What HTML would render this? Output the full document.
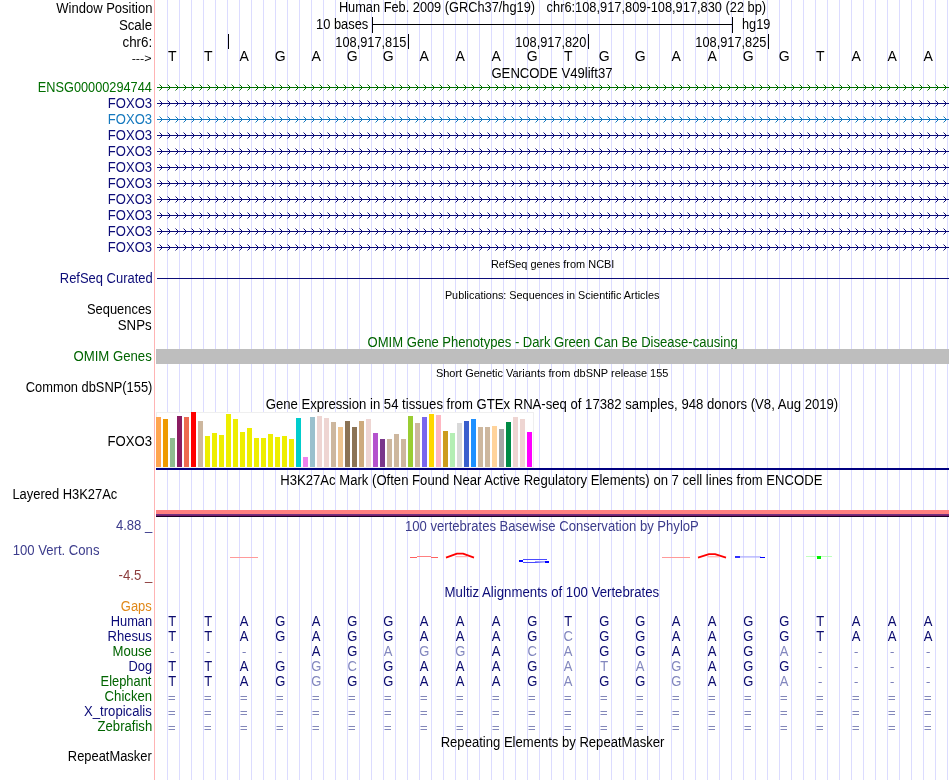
<!DOCTYPE html>
<html><head><meta charset="utf-8"><title>UCSC Genome Browser</title>
<style>html,body{margin:0;padding:0;background:#fff;width:950px;height:780px;overflow:hidden}svg{display:block;will-change:transform}text{white-space:pre}</style>
</head><body>
<svg width="950" height="780" viewBox="0 0 950 780" font-family='"Liberation Sans", sans-serif'><rect x="167" y="0" width="1" height="780" fill="#dcdcff"/>
<rect x="179" y="0" width="1" height="780" fill="#dcdcff"/>
<rect x="191" y="0" width="1" height="780" fill="#dcdcff"/>
<rect x="203" y="0" width="1" height="780" fill="#dcdcff"/>
<rect x="215" y="0" width="1" height="780" fill="#dcdcff"/>
<rect x="227" y="0" width="1" height="780" fill="#dcdcff"/>
<rect x="239" y="0" width="1" height="780" fill="#dcdcff"/>
<rect x="251" y="0" width="1" height="780" fill="#dcdcff"/>
<rect x="263" y="0" width="1" height="780" fill="#dcdcff"/>
<rect x="275" y="0" width="1" height="780" fill="#dcdcff"/>
<rect x="287" y="0" width="1" height="780" fill="#dcdcff"/>
<rect x="299" y="0" width="1" height="780" fill="#dcdcff"/>
<rect x="311" y="0" width="1" height="780" fill="#dcdcff"/>
<rect x="323" y="0" width="1" height="780" fill="#dcdcff"/>
<rect x="335" y="0" width="1" height="780" fill="#dcdcff"/>
<rect x="347" y="0" width="1" height="780" fill="#dcdcff"/>
<rect x="359" y="0" width="1" height="780" fill="#dcdcff"/>
<rect x="371" y="0" width="1" height="780" fill="#dcdcff"/>
<rect x="383" y="0" width="1" height="780" fill="#dcdcff"/>
<rect x="395" y="0" width="1" height="780" fill="#dcdcff"/>
<rect x="407" y="0" width="1" height="780" fill="#dcdcff"/>
<rect x="419" y="0" width="1" height="780" fill="#dcdcff"/>
<rect x="431" y="0" width="1" height="780" fill="#dcdcff"/>
<rect x="443" y="0" width="1" height="780" fill="#dcdcff"/>
<rect x="455" y="0" width="1" height="780" fill="#dcdcff"/>
<rect x="467" y="0" width="1" height="780" fill="#dcdcff"/>
<rect x="479" y="0" width="1" height="780" fill="#dcdcff"/>
<rect x="491" y="0" width="1" height="780" fill="#dcdcff"/>
<rect x="503" y="0" width="1" height="780" fill="#dcdcff"/>
<rect x="515" y="0" width="1" height="780" fill="#dcdcff"/>
<rect x="527" y="0" width="1" height="780" fill="#dcdcff"/>
<rect x="539" y="0" width="1" height="780" fill="#dcdcff"/>
<rect x="551" y="0" width="1" height="780" fill="#dcdcff"/>
<rect x="563" y="0" width="1" height="780" fill="#dcdcff"/>
<rect x="575" y="0" width="1" height="780" fill="#dcdcff"/>
<rect x="587" y="0" width="1" height="780" fill="#dcdcff"/>
<rect x="599" y="0" width="1" height="780" fill="#dcdcff"/>
<rect x="611" y="0" width="1" height="780" fill="#dcdcff"/>
<rect x="623" y="0" width="1" height="780" fill="#dcdcff"/>
<rect x="635" y="0" width="1" height="780" fill="#dcdcff"/>
<rect x="647" y="0" width="1" height="780" fill="#dcdcff"/>
<rect x="659" y="0" width="1" height="780" fill="#dcdcff"/>
<rect x="671" y="0" width="1" height="780" fill="#dcdcff"/>
<rect x="683" y="0" width="1" height="780" fill="#dcdcff"/>
<rect x="695" y="0" width="1" height="780" fill="#dcdcff"/>
<rect x="707" y="0" width="1" height="780" fill="#dcdcff"/>
<rect x="719" y="0" width="1" height="780" fill="#dcdcff"/>
<rect x="731" y="0" width="1" height="780" fill="#dcdcff"/>
<rect x="743" y="0" width="1" height="780" fill="#dcdcff"/>
<rect x="755" y="0" width="1" height="780" fill="#dcdcff"/>
<rect x="767" y="0" width="1" height="780" fill="#dcdcff"/>
<rect x="779" y="0" width="1" height="780" fill="#dcdcff"/>
<rect x="791" y="0" width="1" height="780" fill="#dcdcff"/>
<rect x="803" y="0" width="1" height="780" fill="#dcdcff"/>
<rect x="815" y="0" width="1" height="780" fill="#dcdcff"/>
<rect x="827" y="0" width="1" height="780" fill="#dcdcff"/>
<rect x="839" y="0" width="1" height="780" fill="#dcdcff"/>
<rect x="851" y="0" width="1" height="780" fill="#dcdcff"/>
<rect x="863" y="0" width="1" height="780" fill="#dcdcff"/>
<rect x="875" y="0" width="1" height="780" fill="#dcdcff"/>
<rect x="887" y="0" width="1" height="780" fill="#dcdcff"/>
<rect x="899" y="0" width="1" height="780" fill="#dcdcff"/>
<rect x="911" y="0" width="1" height="780" fill="#dcdcff"/>
<rect x="923" y="0" width="1" height="780" fill="#dcdcff"/>
<rect x="935" y="0" width="1" height="780" fill="#dcdcff"/>
<rect x="947" y="0" width="1" height="780" fill="#dcdcff"/>
<rect x="154" y="0" width="1" height="780" fill="#ffb4b4"/>
<text transform="matrix(1,0,0,1.03,0,13)" x="56.24" y="0" font-size="13.6" fill="#000" textLength="96.24" lengthAdjust="spacingAndGlyphs">Window Position</text>
<text transform="matrix(1,0,0,1.03,0,30)" x="118.88" y="0" font-size="13.6" fill="#000" textLength="33.22" lengthAdjust="spacingAndGlyphs">Scale</text>
<text transform="matrix(1,0,0,1.03,0,47)" x="122.52" y="0" font-size="13.6" fill="#000" textLength="29.72" lengthAdjust="spacingAndGlyphs">chr6:</text>
<text transform="matrix(1,0,0,1.03,0,61.5)" x="131.69" y="0" font-size="11.5" fill="#000" textLength="19.87" lengthAdjust="spacingAndGlyphs">---&gt;</text>
<text transform="matrix(1,0,0,1.03,0,12)" x="338.88" y="0" font-size="13.6" fill="#000" textLength="196.16" lengthAdjust="spacingAndGlyphs">Human Feb. 2009 (GRCh37/hg19)</text>
<text transform="matrix(1,0,0,1.03,0,12)" x="546.62" y="0" font-size="13.6" fill="#000" textLength="219.52" lengthAdjust="spacingAndGlyphs">chr6:108,917,809-108,917,830 (22 bp)</text>
<text transform="matrix(1,0,0,1.03,0,29)" x="315.96" y="0" font-size="13.6" fill="#000" textLength="52.33" lengthAdjust="spacingAndGlyphs">10 bases</text>
<rect x="372" y="17" width="1" height="16" fill="#000"/>
<rect x="732" y="17" width="1" height="16" fill="#000"/>
<rect x="372" y="24" width="361" height="1" fill="#000"/>
<text transform="matrix(1,0,0,1.03,0,29)" x="742.06" y="0" font-size="13.6" fill="#000" textLength="28.29" lengthAdjust="spacingAndGlyphs">hg19</text>
<rect x="228" y="34" width="1" height="15" fill="#000"/>
<rect x="408" y="34" width="1" height="15" fill="#000"/>
<text transform="matrix(1,0,0,1.03,0,47)" x="335.36" y="0" font-size="13.6" fill="#000" textLength="71.01" lengthAdjust="spacingAndGlyphs">108,917,815</text>
<rect x="588" y="34" width="1" height="15" fill="#000"/>
<text transform="matrix(1,0,0,1.03,0,47)" x="515.36" y="0" font-size="13.6" fill="#000" textLength="70.97" lengthAdjust="spacingAndGlyphs">108,917,820</text>
<rect x="768" y="34" width="1" height="15" fill="#000"/>
<text transform="matrix(1,0,0,1.03,0,47)" x="695.36" y="0" font-size="13.6" fill="#000" textLength="71.01" lengthAdjust="spacingAndGlyphs">108,917,825</text>
<text x="172.2" y="61" font-size="14" fill="#000" text-anchor="middle">T</text>
<text x="208.2" y="61" font-size="14" fill="#000" text-anchor="middle">T</text>
<text x="244.2" y="61" font-size="14" fill="#000" text-anchor="middle">A</text>
<text x="280.2" y="61" font-size="14" fill="#000" text-anchor="middle">G</text>
<text x="316.2" y="61" font-size="14" fill="#000" text-anchor="middle">A</text>
<text x="352.2" y="61" font-size="14" fill="#000" text-anchor="middle">G</text>
<text x="388.2" y="61" font-size="14" fill="#000" text-anchor="middle">G</text>
<text x="424.2" y="61" font-size="14" fill="#000" text-anchor="middle">A</text>
<text x="460.2" y="61" font-size="14" fill="#000" text-anchor="middle">A</text>
<text x="496.2" y="61" font-size="14" fill="#000" text-anchor="middle">A</text>
<text x="532.2" y="61" font-size="14" fill="#000" text-anchor="middle">G</text>
<text x="568.2" y="61" font-size="14" fill="#000" text-anchor="middle">T</text>
<text x="604.2" y="61" font-size="14" fill="#000" text-anchor="middle">G</text>
<text x="640.2" y="61" font-size="14" fill="#000" text-anchor="middle">G</text>
<text x="676.2" y="61" font-size="14" fill="#000" text-anchor="middle">A</text>
<text x="712.2" y="61" font-size="14" fill="#000" text-anchor="middle">A</text>
<text x="748.2" y="61" font-size="14" fill="#000" text-anchor="middle">G</text>
<text x="784.2" y="61" font-size="14" fill="#000" text-anchor="middle">G</text>
<text x="820.2" y="61" font-size="14" fill="#000" text-anchor="middle">T</text>
<text x="856.2" y="61" font-size="14" fill="#000" text-anchor="middle">A</text>
<text x="892.2" y="61" font-size="14" fill="#000" text-anchor="middle">A</text>
<text x="928.2" y="61" font-size="14" fill="#000" text-anchor="middle">A</text>
<text transform="matrix(1,0,0,1.03,0,78)" x="491.42" y="0" font-size="13.6" fill="#000" textLength="121.07" lengthAdjust="spacingAndGlyphs">GENCODE V49lift37</text>
<text transform="matrix(1,0,0,1.03,0,92)" x="37.88" y="0" font-size="13.6" fill="#006e00" textLength="114.01" lengthAdjust="spacingAndGlyphs">ENSG00000294744</text>
<rect x="157" y="87" width="792" height="1" fill="#006e00"/>
<path d="M159.5,84.5L162.5,87.5L159.5,90.5 M167.5,84.5L170.5,87.5L167.5,90.5 M175.5,84.5L178.5,87.5L175.5,90.5 M183.5,84.5L186.5,87.5L183.5,90.5 M191.5,84.5L194.5,87.5L191.5,90.5 M199.5,84.5L202.5,87.5L199.5,90.5 M207.5,84.5L210.5,87.5L207.5,90.5 M215.5,84.5L218.5,87.5L215.5,90.5 M223.5,84.5L226.5,87.5L223.5,90.5 M231.5,84.5L234.5,87.5L231.5,90.5 M239.5,84.5L242.5,87.5L239.5,90.5 M247.5,84.5L250.5,87.5L247.5,90.5 M255.5,84.5L258.5,87.5L255.5,90.5 M263.5,84.5L266.5,87.5L263.5,90.5 M271.5,84.5L274.5,87.5L271.5,90.5 M279.5,84.5L282.5,87.5L279.5,90.5 M287.5,84.5L290.5,87.5L287.5,90.5 M295.5,84.5L298.5,87.5L295.5,90.5 M303.5,84.5L306.5,87.5L303.5,90.5 M311.5,84.5L314.5,87.5L311.5,90.5 M319.5,84.5L322.5,87.5L319.5,90.5 M327.5,84.5L330.5,87.5L327.5,90.5 M335.5,84.5L338.5,87.5L335.5,90.5 M343.5,84.5L346.5,87.5L343.5,90.5 M351.5,84.5L354.5,87.5L351.5,90.5 M359.5,84.5L362.5,87.5L359.5,90.5 M367.5,84.5L370.5,87.5L367.5,90.5 M375.5,84.5L378.5,87.5L375.5,90.5 M383.5,84.5L386.5,87.5L383.5,90.5 M391.5,84.5L394.5,87.5L391.5,90.5 M399.5,84.5L402.5,87.5L399.5,90.5 M407.5,84.5L410.5,87.5L407.5,90.5 M415.5,84.5L418.5,87.5L415.5,90.5 M423.5,84.5L426.5,87.5L423.5,90.5 M431.5,84.5L434.5,87.5L431.5,90.5 M439.5,84.5L442.5,87.5L439.5,90.5 M447.5,84.5L450.5,87.5L447.5,90.5 M455.5,84.5L458.5,87.5L455.5,90.5 M463.5,84.5L466.5,87.5L463.5,90.5 M471.5,84.5L474.5,87.5L471.5,90.5 M479.5,84.5L482.5,87.5L479.5,90.5 M487.5,84.5L490.5,87.5L487.5,90.5 M495.5,84.5L498.5,87.5L495.5,90.5 M503.5,84.5L506.5,87.5L503.5,90.5 M511.5,84.5L514.5,87.5L511.5,90.5 M519.5,84.5L522.5,87.5L519.5,90.5 M527.5,84.5L530.5,87.5L527.5,90.5 M535.5,84.5L538.5,87.5L535.5,90.5 M543.5,84.5L546.5,87.5L543.5,90.5 M551.5,84.5L554.5,87.5L551.5,90.5 M559.5,84.5L562.5,87.5L559.5,90.5 M567.5,84.5L570.5,87.5L567.5,90.5 M575.5,84.5L578.5,87.5L575.5,90.5 M583.5,84.5L586.5,87.5L583.5,90.5 M591.5,84.5L594.5,87.5L591.5,90.5 M599.5,84.5L602.5,87.5L599.5,90.5 M607.5,84.5L610.5,87.5L607.5,90.5 M615.5,84.5L618.5,87.5L615.5,90.5 M623.5,84.5L626.5,87.5L623.5,90.5 M631.5,84.5L634.5,87.5L631.5,90.5 M639.5,84.5L642.5,87.5L639.5,90.5 M647.5,84.5L650.5,87.5L647.5,90.5 M655.5,84.5L658.5,87.5L655.5,90.5 M663.5,84.5L666.5,87.5L663.5,90.5 M671.5,84.5L674.5,87.5L671.5,90.5 M679.5,84.5L682.5,87.5L679.5,90.5 M687.5,84.5L690.5,87.5L687.5,90.5 M695.5,84.5L698.5,87.5L695.5,90.5 M703.5,84.5L706.5,87.5L703.5,90.5 M711.5,84.5L714.5,87.5L711.5,90.5 M719.5,84.5L722.5,87.5L719.5,90.5 M727.5,84.5L730.5,87.5L727.5,90.5 M735.5,84.5L738.5,87.5L735.5,90.5 M743.5,84.5L746.5,87.5L743.5,90.5 M751.5,84.5L754.5,87.5L751.5,90.5 M759.5,84.5L762.5,87.5L759.5,90.5 M767.5,84.5L770.5,87.5L767.5,90.5 M775.5,84.5L778.5,87.5L775.5,90.5 M783.5,84.5L786.5,87.5L783.5,90.5 M791.5,84.5L794.5,87.5L791.5,90.5 M799.5,84.5L802.5,87.5L799.5,90.5 M807.5,84.5L810.5,87.5L807.5,90.5 M815.5,84.5L818.5,87.5L815.5,90.5 M823.5,84.5L826.5,87.5L823.5,90.5 M831.5,84.5L834.5,87.5L831.5,90.5 M839.5,84.5L842.5,87.5L839.5,90.5 M847.5,84.5L850.5,87.5L847.5,90.5 M855.5,84.5L858.5,87.5L855.5,90.5 M863.5,84.5L866.5,87.5L863.5,90.5 M871.5,84.5L874.5,87.5L871.5,90.5 M879.5,84.5L882.5,87.5L879.5,90.5 M887.5,84.5L890.5,87.5L887.5,90.5 M895.5,84.5L898.5,87.5L895.5,90.5 M903.5,84.5L906.5,87.5L903.5,90.5 M911.5,84.5L914.5,87.5L911.5,90.5 M919.5,84.5L922.5,87.5L919.5,90.5 M927.5,84.5L930.5,87.5L927.5,90.5 M935.5,84.5L938.5,87.5L935.5,90.5 M943.5,84.5L946.5,87.5L943.5,90.5" stroke="#006e00" stroke-width="1" fill="none"/>
<text transform="matrix(1,0,0,1.03,0,108)" x="107.88" y="0" font-size="13.6" fill="#0c0c78" textLength="44.21" lengthAdjust="spacingAndGlyphs">FOXO3</text>
<rect x="157" y="103" width="792" height="1" fill="#0c0c78"/>
<path d="M159.5,100.5L162.5,103.5L159.5,106.5 M167.5,100.5L170.5,103.5L167.5,106.5 M175.5,100.5L178.5,103.5L175.5,106.5 M183.5,100.5L186.5,103.5L183.5,106.5 M191.5,100.5L194.5,103.5L191.5,106.5 M199.5,100.5L202.5,103.5L199.5,106.5 M207.5,100.5L210.5,103.5L207.5,106.5 M215.5,100.5L218.5,103.5L215.5,106.5 M223.5,100.5L226.5,103.5L223.5,106.5 M231.5,100.5L234.5,103.5L231.5,106.5 M239.5,100.5L242.5,103.5L239.5,106.5 M247.5,100.5L250.5,103.5L247.5,106.5 M255.5,100.5L258.5,103.5L255.5,106.5 M263.5,100.5L266.5,103.5L263.5,106.5 M271.5,100.5L274.5,103.5L271.5,106.5 M279.5,100.5L282.5,103.5L279.5,106.5 M287.5,100.5L290.5,103.5L287.5,106.5 M295.5,100.5L298.5,103.5L295.5,106.5 M303.5,100.5L306.5,103.5L303.5,106.5 M311.5,100.5L314.5,103.5L311.5,106.5 M319.5,100.5L322.5,103.5L319.5,106.5 M327.5,100.5L330.5,103.5L327.5,106.5 M335.5,100.5L338.5,103.5L335.5,106.5 M343.5,100.5L346.5,103.5L343.5,106.5 M351.5,100.5L354.5,103.5L351.5,106.5 M359.5,100.5L362.5,103.5L359.5,106.5 M367.5,100.5L370.5,103.5L367.5,106.5 M375.5,100.5L378.5,103.5L375.5,106.5 M383.5,100.5L386.5,103.5L383.5,106.5 M391.5,100.5L394.5,103.5L391.5,106.5 M399.5,100.5L402.5,103.5L399.5,106.5 M407.5,100.5L410.5,103.5L407.5,106.5 M415.5,100.5L418.5,103.5L415.5,106.5 M423.5,100.5L426.5,103.5L423.5,106.5 M431.5,100.5L434.5,103.5L431.5,106.5 M439.5,100.5L442.5,103.5L439.5,106.5 M447.5,100.5L450.5,103.5L447.5,106.5 M455.5,100.5L458.5,103.5L455.5,106.5 M463.5,100.5L466.5,103.5L463.5,106.5 M471.5,100.5L474.5,103.5L471.5,106.5 M479.5,100.5L482.5,103.5L479.5,106.5 M487.5,100.5L490.5,103.5L487.5,106.5 M495.5,100.5L498.5,103.5L495.5,106.5 M503.5,100.5L506.5,103.5L503.5,106.5 M511.5,100.5L514.5,103.5L511.5,106.5 M519.5,100.5L522.5,103.5L519.5,106.5 M527.5,100.5L530.5,103.5L527.5,106.5 M535.5,100.5L538.5,103.5L535.5,106.5 M543.5,100.5L546.5,103.5L543.5,106.5 M551.5,100.5L554.5,103.5L551.5,106.5 M559.5,100.5L562.5,103.5L559.5,106.5 M567.5,100.5L570.5,103.5L567.5,106.5 M575.5,100.5L578.5,103.5L575.5,106.5 M583.5,100.5L586.5,103.5L583.5,106.5 M591.5,100.5L594.5,103.5L591.5,106.5 M599.5,100.5L602.5,103.5L599.5,106.5 M607.5,100.5L610.5,103.5L607.5,106.5 M615.5,100.5L618.5,103.5L615.5,106.5 M623.5,100.5L626.5,103.5L623.5,106.5 M631.5,100.5L634.5,103.5L631.5,106.5 M639.5,100.5L642.5,103.5L639.5,106.5 M647.5,100.5L650.5,103.5L647.5,106.5 M655.5,100.5L658.5,103.5L655.5,106.5 M663.5,100.5L666.5,103.5L663.5,106.5 M671.5,100.5L674.5,103.5L671.5,106.5 M679.5,100.5L682.5,103.5L679.5,106.5 M687.5,100.5L690.5,103.5L687.5,106.5 M695.5,100.5L698.5,103.5L695.5,106.5 M703.5,100.5L706.5,103.5L703.5,106.5 M711.5,100.5L714.5,103.5L711.5,106.5 M719.5,100.5L722.5,103.5L719.5,106.5 M727.5,100.5L730.5,103.5L727.5,106.5 M735.5,100.5L738.5,103.5L735.5,106.5 M743.5,100.5L746.5,103.5L743.5,106.5 M751.5,100.5L754.5,103.5L751.5,106.5 M759.5,100.5L762.5,103.5L759.5,106.5 M767.5,100.5L770.5,103.5L767.5,106.5 M775.5,100.5L778.5,103.5L775.5,106.5 M783.5,100.5L786.5,103.5L783.5,106.5 M791.5,100.5L794.5,103.5L791.5,106.5 M799.5,100.5L802.5,103.5L799.5,106.5 M807.5,100.5L810.5,103.5L807.5,106.5 M815.5,100.5L818.5,103.5L815.5,106.5 M823.5,100.5L826.5,103.5L823.5,106.5 M831.5,100.5L834.5,103.5L831.5,106.5 M839.5,100.5L842.5,103.5L839.5,106.5 M847.5,100.5L850.5,103.5L847.5,106.5 M855.5,100.5L858.5,103.5L855.5,106.5 M863.5,100.5L866.5,103.5L863.5,106.5 M871.5,100.5L874.5,103.5L871.5,106.5 M879.5,100.5L882.5,103.5L879.5,106.5 M887.5,100.5L890.5,103.5L887.5,106.5 M895.5,100.5L898.5,103.5L895.5,106.5 M903.5,100.5L906.5,103.5L903.5,106.5 M911.5,100.5L914.5,103.5L911.5,106.5 M919.5,100.5L922.5,103.5L919.5,106.5 M927.5,100.5L930.5,103.5L927.5,106.5 M935.5,100.5L938.5,103.5L935.5,106.5 M943.5,100.5L946.5,103.5L943.5,106.5" stroke="#0c0c78" stroke-width="1" fill="none"/>
<text transform="matrix(1,0,0,1.03,0,124)" x="107.88" y="0" font-size="13.6" fill="#1478be" textLength="44.21" lengthAdjust="spacingAndGlyphs">FOXO3</text>
<rect x="157" y="119" width="792" height="1" fill="#1478be"/>
<path d="M159.5,116.5L162.5,119.5L159.5,122.5 M167.5,116.5L170.5,119.5L167.5,122.5 M175.5,116.5L178.5,119.5L175.5,122.5 M183.5,116.5L186.5,119.5L183.5,122.5 M191.5,116.5L194.5,119.5L191.5,122.5 M199.5,116.5L202.5,119.5L199.5,122.5 M207.5,116.5L210.5,119.5L207.5,122.5 M215.5,116.5L218.5,119.5L215.5,122.5 M223.5,116.5L226.5,119.5L223.5,122.5 M231.5,116.5L234.5,119.5L231.5,122.5 M239.5,116.5L242.5,119.5L239.5,122.5 M247.5,116.5L250.5,119.5L247.5,122.5 M255.5,116.5L258.5,119.5L255.5,122.5 M263.5,116.5L266.5,119.5L263.5,122.5 M271.5,116.5L274.5,119.5L271.5,122.5 M279.5,116.5L282.5,119.5L279.5,122.5 M287.5,116.5L290.5,119.5L287.5,122.5 M295.5,116.5L298.5,119.5L295.5,122.5 M303.5,116.5L306.5,119.5L303.5,122.5 M311.5,116.5L314.5,119.5L311.5,122.5 M319.5,116.5L322.5,119.5L319.5,122.5 M327.5,116.5L330.5,119.5L327.5,122.5 M335.5,116.5L338.5,119.5L335.5,122.5 M343.5,116.5L346.5,119.5L343.5,122.5 M351.5,116.5L354.5,119.5L351.5,122.5 M359.5,116.5L362.5,119.5L359.5,122.5 M367.5,116.5L370.5,119.5L367.5,122.5 M375.5,116.5L378.5,119.5L375.5,122.5 M383.5,116.5L386.5,119.5L383.5,122.5 M391.5,116.5L394.5,119.5L391.5,122.5 M399.5,116.5L402.5,119.5L399.5,122.5 M407.5,116.5L410.5,119.5L407.5,122.5 M415.5,116.5L418.5,119.5L415.5,122.5 M423.5,116.5L426.5,119.5L423.5,122.5 M431.5,116.5L434.5,119.5L431.5,122.5 M439.5,116.5L442.5,119.5L439.5,122.5 M447.5,116.5L450.5,119.5L447.5,122.5 M455.5,116.5L458.5,119.5L455.5,122.5 M463.5,116.5L466.5,119.5L463.5,122.5 M471.5,116.5L474.5,119.5L471.5,122.5 M479.5,116.5L482.5,119.5L479.5,122.5 M487.5,116.5L490.5,119.5L487.5,122.5 M495.5,116.5L498.5,119.5L495.5,122.5 M503.5,116.5L506.5,119.5L503.5,122.5 M511.5,116.5L514.5,119.5L511.5,122.5 M519.5,116.5L522.5,119.5L519.5,122.5 M527.5,116.5L530.5,119.5L527.5,122.5 M535.5,116.5L538.5,119.5L535.5,122.5 M543.5,116.5L546.5,119.5L543.5,122.5 M551.5,116.5L554.5,119.5L551.5,122.5 M559.5,116.5L562.5,119.5L559.5,122.5 M567.5,116.5L570.5,119.5L567.5,122.5 M575.5,116.5L578.5,119.5L575.5,122.5 M583.5,116.5L586.5,119.5L583.5,122.5 M591.5,116.5L594.5,119.5L591.5,122.5 M599.5,116.5L602.5,119.5L599.5,122.5 M607.5,116.5L610.5,119.5L607.5,122.5 M615.5,116.5L618.5,119.5L615.5,122.5 M623.5,116.5L626.5,119.5L623.5,122.5 M631.5,116.5L634.5,119.5L631.5,122.5 M639.5,116.5L642.5,119.5L639.5,122.5 M647.5,116.5L650.5,119.5L647.5,122.5 M655.5,116.5L658.5,119.5L655.5,122.5 M663.5,116.5L666.5,119.5L663.5,122.5 M671.5,116.5L674.5,119.5L671.5,122.5 M679.5,116.5L682.5,119.5L679.5,122.5 M687.5,116.5L690.5,119.5L687.5,122.5 M695.5,116.5L698.5,119.5L695.5,122.5 M703.5,116.5L706.5,119.5L703.5,122.5 M711.5,116.5L714.5,119.5L711.5,122.5 M719.5,116.5L722.5,119.5L719.5,122.5 M727.5,116.5L730.5,119.5L727.5,122.5 M735.5,116.5L738.5,119.5L735.5,122.5 M743.5,116.5L746.5,119.5L743.5,122.5 M751.5,116.5L754.5,119.5L751.5,122.5 M759.5,116.5L762.5,119.5L759.5,122.5 M767.5,116.5L770.5,119.5L767.5,122.5 M775.5,116.5L778.5,119.5L775.5,122.5 M783.5,116.5L786.5,119.5L783.5,122.5 M791.5,116.5L794.5,119.5L791.5,122.5 M799.5,116.5L802.5,119.5L799.5,122.5 M807.5,116.5L810.5,119.5L807.5,122.5 M815.5,116.5L818.5,119.5L815.5,122.5 M823.5,116.5L826.5,119.5L823.5,122.5 M831.5,116.5L834.5,119.5L831.5,122.5 M839.5,116.5L842.5,119.5L839.5,122.5 M847.5,116.5L850.5,119.5L847.5,122.5 M855.5,116.5L858.5,119.5L855.5,122.5 M863.5,116.5L866.5,119.5L863.5,122.5 M871.5,116.5L874.5,119.5L871.5,122.5 M879.5,116.5L882.5,119.5L879.5,122.5 M887.5,116.5L890.5,119.5L887.5,122.5 M895.5,116.5L898.5,119.5L895.5,122.5 M903.5,116.5L906.5,119.5L903.5,122.5 M911.5,116.5L914.5,119.5L911.5,122.5 M919.5,116.5L922.5,119.5L919.5,122.5 M927.5,116.5L930.5,119.5L927.5,122.5 M935.5,116.5L938.5,119.5L935.5,122.5 M943.5,116.5L946.5,119.5L943.5,122.5" stroke="#1478be" stroke-width="1" fill="none"/>
<text transform="matrix(1,0,0,1.03,0,140)" x="107.88" y="0" font-size="13.6" fill="#0c0c78" textLength="44.21" lengthAdjust="spacingAndGlyphs">FOXO3</text>
<rect x="157" y="135" width="792" height="1" fill="#0c0c78"/>
<path d="M159.5,132.5L162.5,135.5L159.5,138.5 M167.5,132.5L170.5,135.5L167.5,138.5 M175.5,132.5L178.5,135.5L175.5,138.5 M183.5,132.5L186.5,135.5L183.5,138.5 M191.5,132.5L194.5,135.5L191.5,138.5 M199.5,132.5L202.5,135.5L199.5,138.5 M207.5,132.5L210.5,135.5L207.5,138.5 M215.5,132.5L218.5,135.5L215.5,138.5 M223.5,132.5L226.5,135.5L223.5,138.5 M231.5,132.5L234.5,135.5L231.5,138.5 M239.5,132.5L242.5,135.5L239.5,138.5 M247.5,132.5L250.5,135.5L247.5,138.5 M255.5,132.5L258.5,135.5L255.5,138.5 M263.5,132.5L266.5,135.5L263.5,138.5 M271.5,132.5L274.5,135.5L271.5,138.5 M279.5,132.5L282.5,135.5L279.5,138.5 M287.5,132.5L290.5,135.5L287.5,138.5 M295.5,132.5L298.5,135.5L295.5,138.5 M303.5,132.5L306.5,135.5L303.5,138.5 M311.5,132.5L314.5,135.5L311.5,138.5 M319.5,132.5L322.5,135.5L319.5,138.5 M327.5,132.5L330.5,135.5L327.5,138.5 M335.5,132.5L338.5,135.5L335.5,138.5 M343.5,132.5L346.5,135.5L343.5,138.5 M351.5,132.5L354.5,135.5L351.5,138.5 M359.5,132.5L362.5,135.5L359.5,138.5 M367.5,132.5L370.5,135.5L367.5,138.5 M375.5,132.5L378.5,135.5L375.5,138.5 M383.5,132.5L386.5,135.5L383.5,138.5 M391.5,132.5L394.5,135.5L391.5,138.5 M399.5,132.5L402.5,135.5L399.5,138.5 M407.5,132.5L410.5,135.5L407.5,138.5 M415.5,132.5L418.5,135.5L415.5,138.5 M423.5,132.5L426.5,135.5L423.5,138.5 M431.5,132.5L434.5,135.5L431.5,138.5 M439.5,132.5L442.5,135.5L439.5,138.5 M447.5,132.5L450.5,135.5L447.5,138.5 M455.5,132.5L458.5,135.5L455.5,138.5 M463.5,132.5L466.5,135.5L463.5,138.5 M471.5,132.5L474.5,135.5L471.5,138.5 M479.5,132.5L482.5,135.5L479.5,138.5 M487.5,132.5L490.5,135.5L487.5,138.5 M495.5,132.5L498.5,135.5L495.5,138.5 M503.5,132.5L506.5,135.5L503.5,138.5 M511.5,132.5L514.5,135.5L511.5,138.5 M519.5,132.5L522.5,135.5L519.5,138.5 M527.5,132.5L530.5,135.5L527.5,138.5 M535.5,132.5L538.5,135.5L535.5,138.5 M543.5,132.5L546.5,135.5L543.5,138.5 M551.5,132.5L554.5,135.5L551.5,138.5 M559.5,132.5L562.5,135.5L559.5,138.5 M567.5,132.5L570.5,135.5L567.5,138.5 M575.5,132.5L578.5,135.5L575.5,138.5 M583.5,132.5L586.5,135.5L583.5,138.5 M591.5,132.5L594.5,135.5L591.5,138.5 M599.5,132.5L602.5,135.5L599.5,138.5 M607.5,132.5L610.5,135.5L607.5,138.5 M615.5,132.5L618.5,135.5L615.5,138.5 M623.5,132.5L626.5,135.5L623.5,138.5 M631.5,132.5L634.5,135.5L631.5,138.5 M639.5,132.5L642.5,135.5L639.5,138.5 M647.5,132.5L650.5,135.5L647.5,138.5 M655.5,132.5L658.5,135.5L655.5,138.5 M663.5,132.5L666.5,135.5L663.5,138.5 M671.5,132.5L674.5,135.5L671.5,138.5 M679.5,132.5L682.5,135.5L679.5,138.5 M687.5,132.5L690.5,135.5L687.5,138.5 M695.5,132.5L698.5,135.5L695.5,138.5 M703.5,132.5L706.5,135.5L703.5,138.5 M711.5,132.5L714.5,135.5L711.5,138.5 M719.5,132.5L722.5,135.5L719.5,138.5 M727.5,132.5L730.5,135.5L727.5,138.5 M735.5,132.5L738.5,135.5L735.5,138.5 M743.5,132.5L746.5,135.5L743.5,138.5 M751.5,132.5L754.5,135.5L751.5,138.5 M759.5,132.5L762.5,135.5L759.5,138.5 M767.5,132.5L770.5,135.5L767.5,138.5 M775.5,132.5L778.5,135.5L775.5,138.5 M783.5,132.5L786.5,135.5L783.5,138.5 M791.5,132.5L794.5,135.5L791.5,138.5 M799.5,132.5L802.5,135.5L799.5,138.5 M807.5,132.5L810.5,135.5L807.5,138.5 M815.5,132.5L818.5,135.5L815.5,138.5 M823.5,132.5L826.5,135.5L823.5,138.5 M831.5,132.5L834.5,135.5L831.5,138.5 M839.5,132.5L842.5,135.5L839.5,138.5 M847.5,132.5L850.5,135.5L847.5,138.5 M855.5,132.5L858.5,135.5L855.5,138.5 M863.5,132.5L866.5,135.5L863.5,138.5 M871.5,132.5L874.5,135.5L871.5,138.5 M879.5,132.5L882.5,135.5L879.5,138.5 M887.5,132.5L890.5,135.5L887.5,138.5 M895.5,132.5L898.5,135.5L895.5,138.5 M903.5,132.5L906.5,135.5L903.5,138.5 M911.5,132.5L914.5,135.5L911.5,138.5 M919.5,132.5L922.5,135.5L919.5,138.5 M927.5,132.5L930.5,135.5L927.5,138.5 M935.5,132.5L938.5,135.5L935.5,138.5 M943.5,132.5L946.5,135.5L943.5,138.5" stroke="#0c0c78" stroke-width="1" fill="none"/>
<text transform="matrix(1,0,0,1.03,0,156)" x="107.88" y="0" font-size="13.6" fill="#0c0c78" textLength="44.21" lengthAdjust="spacingAndGlyphs">FOXO3</text>
<rect x="157" y="151" width="792" height="1" fill="#0c0c78"/>
<path d="M159.5,148.5L162.5,151.5L159.5,154.5 M167.5,148.5L170.5,151.5L167.5,154.5 M175.5,148.5L178.5,151.5L175.5,154.5 M183.5,148.5L186.5,151.5L183.5,154.5 M191.5,148.5L194.5,151.5L191.5,154.5 M199.5,148.5L202.5,151.5L199.5,154.5 M207.5,148.5L210.5,151.5L207.5,154.5 M215.5,148.5L218.5,151.5L215.5,154.5 M223.5,148.5L226.5,151.5L223.5,154.5 M231.5,148.5L234.5,151.5L231.5,154.5 M239.5,148.5L242.5,151.5L239.5,154.5 M247.5,148.5L250.5,151.5L247.5,154.5 M255.5,148.5L258.5,151.5L255.5,154.5 M263.5,148.5L266.5,151.5L263.5,154.5 M271.5,148.5L274.5,151.5L271.5,154.5 M279.5,148.5L282.5,151.5L279.5,154.5 M287.5,148.5L290.5,151.5L287.5,154.5 M295.5,148.5L298.5,151.5L295.5,154.5 M303.5,148.5L306.5,151.5L303.5,154.5 M311.5,148.5L314.5,151.5L311.5,154.5 M319.5,148.5L322.5,151.5L319.5,154.5 M327.5,148.5L330.5,151.5L327.5,154.5 M335.5,148.5L338.5,151.5L335.5,154.5 M343.5,148.5L346.5,151.5L343.5,154.5 M351.5,148.5L354.5,151.5L351.5,154.5 M359.5,148.5L362.5,151.5L359.5,154.5 M367.5,148.5L370.5,151.5L367.5,154.5 M375.5,148.5L378.5,151.5L375.5,154.5 M383.5,148.5L386.5,151.5L383.5,154.5 M391.5,148.5L394.5,151.5L391.5,154.5 M399.5,148.5L402.5,151.5L399.5,154.5 M407.5,148.5L410.5,151.5L407.5,154.5 M415.5,148.5L418.5,151.5L415.5,154.5 M423.5,148.5L426.5,151.5L423.5,154.5 M431.5,148.5L434.5,151.5L431.5,154.5 M439.5,148.5L442.5,151.5L439.5,154.5 M447.5,148.5L450.5,151.5L447.5,154.5 M455.5,148.5L458.5,151.5L455.5,154.5 M463.5,148.5L466.5,151.5L463.5,154.5 M471.5,148.5L474.5,151.5L471.5,154.5 M479.5,148.5L482.5,151.5L479.5,154.5 M487.5,148.5L490.5,151.5L487.5,154.5 M495.5,148.5L498.5,151.5L495.5,154.5 M503.5,148.5L506.5,151.5L503.5,154.5 M511.5,148.5L514.5,151.5L511.5,154.5 M519.5,148.5L522.5,151.5L519.5,154.5 M527.5,148.5L530.5,151.5L527.5,154.5 M535.5,148.5L538.5,151.5L535.5,154.5 M543.5,148.5L546.5,151.5L543.5,154.5 M551.5,148.5L554.5,151.5L551.5,154.5 M559.5,148.5L562.5,151.5L559.5,154.5 M567.5,148.5L570.5,151.5L567.5,154.5 M575.5,148.5L578.5,151.5L575.5,154.5 M583.5,148.5L586.5,151.5L583.5,154.5 M591.5,148.5L594.5,151.5L591.5,154.5 M599.5,148.5L602.5,151.5L599.5,154.5 M607.5,148.5L610.5,151.5L607.5,154.5 M615.5,148.5L618.5,151.5L615.5,154.5 M623.5,148.5L626.5,151.5L623.5,154.5 M631.5,148.5L634.5,151.5L631.5,154.5 M639.5,148.5L642.5,151.5L639.5,154.5 M647.5,148.5L650.5,151.5L647.5,154.5 M655.5,148.5L658.5,151.5L655.5,154.5 M663.5,148.5L666.5,151.5L663.5,154.5 M671.5,148.5L674.5,151.5L671.5,154.5 M679.5,148.5L682.5,151.5L679.5,154.5 M687.5,148.5L690.5,151.5L687.5,154.5 M695.5,148.5L698.5,151.5L695.5,154.5 M703.5,148.5L706.5,151.5L703.5,154.5 M711.5,148.5L714.5,151.5L711.5,154.5 M719.5,148.5L722.5,151.5L719.5,154.5 M727.5,148.5L730.5,151.5L727.5,154.5 M735.5,148.5L738.5,151.5L735.5,154.5 M743.5,148.5L746.5,151.5L743.5,154.5 M751.5,148.5L754.5,151.5L751.5,154.5 M759.5,148.5L762.5,151.5L759.5,154.5 M767.5,148.5L770.5,151.5L767.5,154.5 M775.5,148.5L778.5,151.5L775.5,154.5 M783.5,148.5L786.5,151.5L783.5,154.5 M791.5,148.5L794.5,151.5L791.5,154.5 M799.5,148.5L802.5,151.5L799.5,154.5 M807.5,148.5L810.5,151.5L807.5,154.5 M815.5,148.5L818.5,151.5L815.5,154.5 M823.5,148.5L826.5,151.5L823.5,154.5 M831.5,148.5L834.5,151.5L831.5,154.5 M839.5,148.5L842.5,151.5L839.5,154.5 M847.5,148.5L850.5,151.5L847.5,154.5 M855.5,148.5L858.5,151.5L855.5,154.5 M863.5,148.5L866.5,151.5L863.5,154.5 M871.5,148.5L874.5,151.5L871.5,154.5 M879.5,148.5L882.5,151.5L879.5,154.5 M887.5,148.5L890.5,151.5L887.5,154.5 M895.5,148.5L898.5,151.5L895.5,154.5 M903.5,148.5L906.5,151.5L903.5,154.5 M911.5,148.5L914.5,151.5L911.5,154.5 M919.5,148.5L922.5,151.5L919.5,154.5 M927.5,148.5L930.5,151.5L927.5,154.5 M935.5,148.5L938.5,151.5L935.5,154.5 M943.5,148.5L946.5,151.5L943.5,154.5" stroke="#0c0c78" stroke-width="1" fill="none"/>
<text transform="matrix(1,0,0,1.03,0,172)" x="107.88" y="0" font-size="13.6" fill="#0c0c78" textLength="44.21" lengthAdjust="spacingAndGlyphs">FOXO3</text>
<rect x="157" y="167" width="792" height="1" fill="#0c0c78"/>
<path d="M159.5,164.5L162.5,167.5L159.5,170.5 M167.5,164.5L170.5,167.5L167.5,170.5 M175.5,164.5L178.5,167.5L175.5,170.5 M183.5,164.5L186.5,167.5L183.5,170.5 M191.5,164.5L194.5,167.5L191.5,170.5 M199.5,164.5L202.5,167.5L199.5,170.5 M207.5,164.5L210.5,167.5L207.5,170.5 M215.5,164.5L218.5,167.5L215.5,170.5 M223.5,164.5L226.5,167.5L223.5,170.5 M231.5,164.5L234.5,167.5L231.5,170.5 M239.5,164.5L242.5,167.5L239.5,170.5 M247.5,164.5L250.5,167.5L247.5,170.5 M255.5,164.5L258.5,167.5L255.5,170.5 M263.5,164.5L266.5,167.5L263.5,170.5 M271.5,164.5L274.5,167.5L271.5,170.5 M279.5,164.5L282.5,167.5L279.5,170.5 M287.5,164.5L290.5,167.5L287.5,170.5 M295.5,164.5L298.5,167.5L295.5,170.5 M303.5,164.5L306.5,167.5L303.5,170.5 M311.5,164.5L314.5,167.5L311.5,170.5 M319.5,164.5L322.5,167.5L319.5,170.5 M327.5,164.5L330.5,167.5L327.5,170.5 M335.5,164.5L338.5,167.5L335.5,170.5 M343.5,164.5L346.5,167.5L343.5,170.5 M351.5,164.5L354.5,167.5L351.5,170.5 M359.5,164.5L362.5,167.5L359.5,170.5 M367.5,164.5L370.5,167.5L367.5,170.5 M375.5,164.5L378.5,167.5L375.5,170.5 M383.5,164.5L386.5,167.5L383.5,170.5 M391.5,164.5L394.5,167.5L391.5,170.5 M399.5,164.5L402.5,167.5L399.5,170.5 M407.5,164.5L410.5,167.5L407.5,170.5 M415.5,164.5L418.5,167.5L415.5,170.5 M423.5,164.5L426.5,167.5L423.5,170.5 M431.5,164.5L434.5,167.5L431.5,170.5 M439.5,164.5L442.5,167.5L439.5,170.5 M447.5,164.5L450.5,167.5L447.5,170.5 M455.5,164.5L458.5,167.5L455.5,170.5 M463.5,164.5L466.5,167.5L463.5,170.5 M471.5,164.5L474.5,167.5L471.5,170.5 M479.5,164.5L482.5,167.5L479.5,170.5 M487.5,164.5L490.5,167.5L487.5,170.5 M495.5,164.5L498.5,167.5L495.5,170.5 M503.5,164.5L506.5,167.5L503.5,170.5 M511.5,164.5L514.5,167.5L511.5,170.5 M519.5,164.5L522.5,167.5L519.5,170.5 M527.5,164.5L530.5,167.5L527.5,170.5 M535.5,164.5L538.5,167.5L535.5,170.5 M543.5,164.5L546.5,167.5L543.5,170.5 M551.5,164.5L554.5,167.5L551.5,170.5 M559.5,164.5L562.5,167.5L559.5,170.5 M567.5,164.5L570.5,167.5L567.5,170.5 M575.5,164.5L578.5,167.5L575.5,170.5 M583.5,164.5L586.5,167.5L583.5,170.5 M591.5,164.5L594.5,167.5L591.5,170.5 M599.5,164.5L602.5,167.5L599.5,170.5 M607.5,164.5L610.5,167.5L607.5,170.5 M615.5,164.5L618.5,167.5L615.5,170.5 M623.5,164.5L626.5,167.5L623.5,170.5 M631.5,164.5L634.5,167.5L631.5,170.5 M639.5,164.5L642.5,167.5L639.5,170.5 M647.5,164.5L650.5,167.5L647.5,170.5 M655.5,164.5L658.5,167.5L655.5,170.5 M663.5,164.5L666.5,167.5L663.5,170.5 M671.5,164.5L674.5,167.5L671.5,170.5 M679.5,164.5L682.5,167.5L679.5,170.5 M687.5,164.5L690.5,167.5L687.5,170.5 M695.5,164.5L698.5,167.5L695.5,170.5 M703.5,164.5L706.5,167.5L703.5,170.5 M711.5,164.5L714.5,167.5L711.5,170.5 M719.5,164.5L722.5,167.5L719.5,170.5 M727.5,164.5L730.5,167.5L727.5,170.5 M735.5,164.5L738.5,167.5L735.5,170.5 M743.5,164.5L746.5,167.5L743.5,170.5 M751.5,164.5L754.5,167.5L751.5,170.5 M759.5,164.5L762.5,167.5L759.5,170.5 M767.5,164.5L770.5,167.5L767.5,170.5 M775.5,164.5L778.5,167.5L775.5,170.5 M783.5,164.5L786.5,167.5L783.5,170.5 M791.5,164.5L794.5,167.5L791.5,170.5 M799.5,164.5L802.5,167.5L799.5,170.5 M807.5,164.5L810.5,167.5L807.5,170.5 M815.5,164.5L818.5,167.5L815.5,170.5 M823.5,164.5L826.5,167.5L823.5,170.5 M831.5,164.5L834.5,167.5L831.5,170.5 M839.5,164.5L842.5,167.5L839.5,170.5 M847.5,164.5L850.5,167.5L847.5,170.5 M855.5,164.5L858.5,167.5L855.5,170.5 M863.5,164.5L866.5,167.5L863.5,170.5 M871.5,164.5L874.5,167.5L871.5,170.5 M879.5,164.5L882.5,167.5L879.5,170.5 M887.5,164.5L890.5,167.5L887.5,170.5 M895.5,164.5L898.5,167.5L895.5,170.5 M903.5,164.5L906.5,167.5L903.5,170.5 M911.5,164.5L914.5,167.5L911.5,170.5 M919.5,164.5L922.5,167.5L919.5,170.5 M927.5,164.5L930.5,167.5L927.5,170.5 M935.5,164.5L938.5,167.5L935.5,170.5 M943.5,164.5L946.5,167.5L943.5,170.5" stroke="#0c0c78" stroke-width="1" fill="none"/>
<text transform="matrix(1,0,0,1.03,0,188)" x="107.88" y="0" font-size="13.6" fill="#0c0c78" textLength="44.21" lengthAdjust="spacingAndGlyphs">FOXO3</text>
<rect x="157" y="183" width="792" height="1" fill="#0c0c78"/>
<path d="M159.5,180.5L162.5,183.5L159.5,186.5 M167.5,180.5L170.5,183.5L167.5,186.5 M175.5,180.5L178.5,183.5L175.5,186.5 M183.5,180.5L186.5,183.5L183.5,186.5 M191.5,180.5L194.5,183.5L191.5,186.5 M199.5,180.5L202.5,183.5L199.5,186.5 M207.5,180.5L210.5,183.5L207.5,186.5 M215.5,180.5L218.5,183.5L215.5,186.5 M223.5,180.5L226.5,183.5L223.5,186.5 M231.5,180.5L234.5,183.5L231.5,186.5 M239.5,180.5L242.5,183.5L239.5,186.5 M247.5,180.5L250.5,183.5L247.5,186.5 M255.5,180.5L258.5,183.5L255.5,186.5 M263.5,180.5L266.5,183.5L263.5,186.5 M271.5,180.5L274.5,183.5L271.5,186.5 M279.5,180.5L282.5,183.5L279.5,186.5 M287.5,180.5L290.5,183.5L287.5,186.5 M295.5,180.5L298.5,183.5L295.5,186.5 M303.5,180.5L306.5,183.5L303.5,186.5 M311.5,180.5L314.5,183.5L311.5,186.5 M319.5,180.5L322.5,183.5L319.5,186.5 M327.5,180.5L330.5,183.5L327.5,186.5 M335.5,180.5L338.5,183.5L335.5,186.5 M343.5,180.5L346.5,183.5L343.5,186.5 M351.5,180.5L354.5,183.5L351.5,186.5 M359.5,180.5L362.5,183.5L359.5,186.5 M367.5,180.5L370.5,183.5L367.5,186.5 M375.5,180.5L378.5,183.5L375.5,186.5 M383.5,180.5L386.5,183.5L383.5,186.5 M391.5,180.5L394.5,183.5L391.5,186.5 M399.5,180.5L402.5,183.5L399.5,186.5 M407.5,180.5L410.5,183.5L407.5,186.5 M415.5,180.5L418.5,183.5L415.5,186.5 M423.5,180.5L426.5,183.5L423.5,186.5 M431.5,180.5L434.5,183.5L431.5,186.5 M439.5,180.5L442.5,183.5L439.5,186.5 M447.5,180.5L450.5,183.5L447.5,186.5 M455.5,180.5L458.5,183.5L455.5,186.5 M463.5,180.5L466.5,183.5L463.5,186.5 M471.5,180.5L474.5,183.5L471.5,186.5 M479.5,180.5L482.5,183.5L479.5,186.5 M487.5,180.5L490.5,183.5L487.5,186.5 M495.5,180.5L498.5,183.5L495.5,186.5 M503.5,180.5L506.5,183.5L503.5,186.5 M511.5,180.5L514.5,183.5L511.5,186.5 M519.5,180.5L522.5,183.5L519.5,186.5 M527.5,180.5L530.5,183.5L527.5,186.5 M535.5,180.5L538.5,183.5L535.5,186.5 M543.5,180.5L546.5,183.5L543.5,186.5 M551.5,180.5L554.5,183.5L551.5,186.5 M559.5,180.5L562.5,183.5L559.5,186.5 M567.5,180.5L570.5,183.5L567.5,186.5 M575.5,180.5L578.5,183.5L575.5,186.5 M583.5,180.5L586.5,183.5L583.5,186.5 M591.5,180.5L594.5,183.5L591.5,186.5 M599.5,180.5L602.5,183.5L599.5,186.5 M607.5,180.5L610.5,183.5L607.5,186.5 M615.5,180.5L618.5,183.5L615.5,186.5 M623.5,180.5L626.5,183.5L623.5,186.5 M631.5,180.5L634.5,183.5L631.5,186.5 M639.5,180.5L642.5,183.5L639.5,186.5 M647.5,180.5L650.5,183.5L647.5,186.5 M655.5,180.5L658.5,183.5L655.5,186.5 M663.5,180.5L666.5,183.5L663.5,186.5 M671.5,180.5L674.5,183.5L671.5,186.5 M679.5,180.5L682.5,183.5L679.5,186.5 M687.5,180.5L690.5,183.5L687.5,186.5 M695.5,180.5L698.5,183.5L695.5,186.5 M703.5,180.5L706.5,183.5L703.5,186.5 M711.5,180.5L714.5,183.5L711.5,186.5 M719.5,180.5L722.5,183.5L719.5,186.5 M727.5,180.5L730.5,183.5L727.5,186.5 M735.5,180.5L738.5,183.5L735.5,186.5 M743.5,180.5L746.5,183.5L743.5,186.5 M751.5,180.5L754.5,183.5L751.5,186.5 M759.5,180.5L762.5,183.5L759.5,186.5 M767.5,180.5L770.5,183.5L767.5,186.5 M775.5,180.5L778.5,183.5L775.5,186.5 M783.5,180.5L786.5,183.5L783.5,186.5 M791.5,180.5L794.5,183.5L791.5,186.5 M799.5,180.5L802.5,183.5L799.5,186.5 M807.5,180.5L810.5,183.5L807.5,186.5 M815.5,180.5L818.5,183.5L815.5,186.5 M823.5,180.5L826.5,183.5L823.5,186.5 M831.5,180.5L834.5,183.5L831.5,186.5 M839.5,180.5L842.5,183.5L839.5,186.5 M847.5,180.5L850.5,183.5L847.5,186.5 M855.5,180.5L858.5,183.5L855.5,186.5 M863.5,180.5L866.5,183.5L863.5,186.5 M871.5,180.5L874.5,183.5L871.5,186.5 M879.5,180.5L882.5,183.5L879.5,186.5 M887.5,180.5L890.5,183.5L887.5,186.5 M895.5,180.5L898.5,183.5L895.5,186.5 M903.5,180.5L906.5,183.5L903.5,186.5 M911.5,180.5L914.5,183.5L911.5,186.5 M919.5,180.5L922.5,183.5L919.5,186.5 M927.5,180.5L930.5,183.5L927.5,186.5 M935.5,180.5L938.5,183.5L935.5,186.5 M943.5,180.5L946.5,183.5L943.5,186.5" stroke="#0c0c78" stroke-width="1" fill="none"/>
<text transform="matrix(1,0,0,1.03,0,204)" x="107.88" y="0" font-size="13.6" fill="#0c0c78" textLength="44.21" lengthAdjust="spacingAndGlyphs">FOXO3</text>
<rect x="157" y="199" width="792" height="1" fill="#0c0c78"/>
<path d="M159.5,196.5L162.5,199.5L159.5,202.5 M167.5,196.5L170.5,199.5L167.5,202.5 M175.5,196.5L178.5,199.5L175.5,202.5 M183.5,196.5L186.5,199.5L183.5,202.5 M191.5,196.5L194.5,199.5L191.5,202.5 M199.5,196.5L202.5,199.5L199.5,202.5 M207.5,196.5L210.5,199.5L207.5,202.5 M215.5,196.5L218.5,199.5L215.5,202.5 M223.5,196.5L226.5,199.5L223.5,202.5 M231.5,196.5L234.5,199.5L231.5,202.5 M239.5,196.5L242.5,199.5L239.5,202.5 M247.5,196.5L250.5,199.5L247.5,202.5 M255.5,196.5L258.5,199.5L255.5,202.5 M263.5,196.5L266.5,199.5L263.5,202.5 M271.5,196.5L274.5,199.5L271.5,202.5 M279.5,196.5L282.5,199.5L279.5,202.5 M287.5,196.5L290.5,199.5L287.5,202.5 M295.5,196.5L298.5,199.5L295.5,202.5 M303.5,196.5L306.5,199.5L303.5,202.5 M311.5,196.5L314.5,199.5L311.5,202.5 M319.5,196.5L322.5,199.5L319.5,202.5 M327.5,196.5L330.5,199.5L327.5,202.5 M335.5,196.5L338.5,199.5L335.5,202.5 M343.5,196.5L346.5,199.5L343.5,202.5 M351.5,196.5L354.5,199.5L351.5,202.5 M359.5,196.5L362.5,199.5L359.5,202.5 M367.5,196.5L370.5,199.5L367.5,202.5 M375.5,196.5L378.5,199.5L375.5,202.5 M383.5,196.5L386.5,199.5L383.5,202.5 M391.5,196.5L394.5,199.5L391.5,202.5 M399.5,196.5L402.5,199.5L399.5,202.5 M407.5,196.5L410.5,199.5L407.5,202.5 M415.5,196.5L418.5,199.5L415.5,202.5 M423.5,196.5L426.5,199.5L423.5,202.5 M431.5,196.5L434.5,199.5L431.5,202.5 M439.5,196.5L442.5,199.5L439.5,202.5 M447.5,196.5L450.5,199.5L447.5,202.5 M455.5,196.5L458.5,199.5L455.5,202.5 M463.5,196.5L466.5,199.5L463.5,202.5 M471.5,196.5L474.5,199.5L471.5,202.5 M479.5,196.5L482.5,199.5L479.5,202.5 M487.5,196.5L490.5,199.5L487.5,202.5 M495.5,196.5L498.5,199.5L495.5,202.5 M503.5,196.5L506.5,199.5L503.5,202.5 M511.5,196.5L514.5,199.5L511.5,202.5 M519.5,196.5L522.5,199.5L519.5,202.5 M527.5,196.5L530.5,199.5L527.5,202.5 M535.5,196.5L538.5,199.5L535.5,202.5 M543.5,196.5L546.5,199.5L543.5,202.5 M551.5,196.5L554.5,199.5L551.5,202.5 M559.5,196.5L562.5,199.5L559.5,202.5 M567.5,196.5L570.5,199.5L567.5,202.5 M575.5,196.5L578.5,199.5L575.5,202.5 M583.5,196.5L586.5,199.5L583.5,202.5 M591.5,196.5L594.5,199.5L591.5,202.5 M599.5,196.5L602.5,199.5L599.5,202.5 M607.5,196.5L610.5,199.5L607.5,202.5 M615.5,196.5L618.5,199.5L615.5,202.5 M623.5,196.5L626.5,199.5L623.5,202.5 M631.5,196.5L634.5,199.5L631.5,202.5 M639.5,196.5L642.5,199.5L639.5,202.5 M647.5,196.5L650.5,199.5L647.5,202.5 M655.5,196.5L658.5,199.5L655.5,202.5 M663.5,196.5L666.5,199.5L663.5,202.5 M671.5,196.5L674.5,199.5L671.5,202.5 M679.5,196.5L682.5,199.5L679.5,202.5 M687.5,196.5L690.5,199.5L687.5,202.5 M695.5,196.5L698.5,199.5L695.5,202.5 M703.5,196.5L706.5,199.5L703.5,202.5 M711.5,196.5L714.5,199.5L711.5,202.5 M719.5,196.5L722.5,199.5L719.5,202.5 M727.5,196.5L730.5,199.5L727.5,202.5 M735.5,196.5L738.5,199.5L735.5,202.5 M743.5,196.5L746.5,199.5L743.5,202.5 M751.5,196.5L754.5,199.5L751.5,202.5 M759.5,196.5L762.5,199.5L759.5,202.5 M767.5,196.5L770.5,199.5L767.5,202.5 M775.5,196.5L778.5,199.5L775.5,202.5 M783.5,196.5L786.5,199.5L783.5,202.5 M791.5,196.5L794.5,199.5L791.5,202.5 M799.5,196.5L802.5,199.5L799.5,202.5 M807.5,196.5L810.5,199.5L807.5,202.5 M815.5,196.5L818.5,199.5L815.5,202.5 M823.5,196.5L826.5,199.5L823.5,202.5 M831.5,196.5L834.5,199.5L831.5,202.5 M839.5,196.5L842.5,199.5L839.5,202.5 M847.5,196.5L850.5,199.5L847.5,202.5 M855.5,196.5L858.5,199.5L855.5,202.5 M863.5,196.5L866.5,199.5L863.5,202.5 M871.5,196.5L874.5,199.5L871.5,202.5 M879.5,196.5L882.5,199.5L879.5,202.5 M887.5,196.5L890.5,199.5L887.5,202.5 M895.5,196.5L898.5,199.5L895.5,202.5 M903.5,196.5L906.5,199.5L903.5,202.5 M911.5,196.5L914.5,199.5L911.5,202.5 M919.5,196.5L922.5,199.5L919.5,202.5 M927.5,196.5L930.5,199.5L927.5,202.5 M935.5,196.5L938.5,199.5L935.5,202.5 M943.5,196.5L946.5,199.5L943.5,202.5" stroke="#0c0c78" stroke-width="1" fill="none"/>
<text transform="matrix(1,0,0,1.03,0,220)" x="107.88" y="0" font-size="13.6" fill="#0c0c78" textLength="44.21" lengthAdjust="spacingAndGlyphs">FOXO3</text>
<rect x="157" y="215" width="792" height="1" fill="#0c0c78"/>
<path d="M159.5,212.5L162.5,215.5L159.5,218.5 M167.5,212.5L170.5,215.5L167.5,218.5 M175.5,212.5L178.5,215.5L175.5,218.5 M183.5,212.5L186.5,215.5L183.5,218.5 M191.5,212.5L194.5,215.5L191.5,218.5 M199.5,212.5L202.5,215.5L199.5,218.5 M207.5,212.5L210.5,215.5L207.5,218.5 M215.5,212.5L218.5,215.5L215.5,218.5 M223.5,212.5L226.5,215.5L223.5,218.5 M231.5,212.5L234.5,215.5L231.5,218.5 M239.5,212.5L242.5,215.5L239.5,218.5 M247.5,212.5L250.5,215.5L247.5,218.5 M255.5,212.5L258.5,215.5L255.5,218.5 M263.5,212.5L266.5,215.5L263.5,218.5 M271.5,212.5L274.5,215.5L271.5,218.5 M279.5,212.5L282.5,215.5L279.5,218.5 M287.5,212.5L290.5,215.5L287.5,218.5 M295.5,212.5L298.5,215.5L295.5,218.5 M303.5,212.5L306.5,215.5L303.5,218.5 M311.5,212.5L314.5,215.5L311.5,218.5 M319.5,212.5L322.5,215.5L319.5,218.5 M327.5,212.5L330.5,215.5L327.5,218.5 M335.5,212.5L338.5,215.5L335.5,218.5 M343.5,212.5L346.5,215.5L343.5,218.5 M351.5,212.5L354.5,215.5L351.5,218.5 M359.5,212.5L362.5,215.5L359.5,218.5 M367.5,212.5L370.5,215.5L367.5,218.5 M375.5,212.5L378.5,215.5L375.5,218.5 M383.5,212.5L386.5,215.5L383.5,218.5 M391.5,212.5L394.5,215.5L391.5,218.5 M399.5,212.5L402.5,215.5L399.5,218.5 M407.5,212.5L410.5,215.5L407.5,218.5 M415.5,212.5L418.5,215.5L415.5,218.5 M423.5,212.5L426.5,215.5L423.5,218.5 M431.5,212.5L434.5,215.5L431.5,218.5 M439.5,212.5L442.5,215.5L439.5,218.5 M447.5,212.5L450.5,215.5L447.5,218.5 M455.5,212.5L458.5,215.5L455.5,218.5 M463.5,212.5L466.5,215.5L463.5,218.5 M471.5,212.5L474.5,215.5L471.5,218.5 M479.5,212.5L482.5,215.5L479.5,218.5 M487.5,212.5L490.5,215.5L487.5,218.5 M495.5,212.5L498.5,215.5L495.5,218.5 M503.5,212.5L506.5,215.5L503.5,218.5 M511.5,212.5L514.5,215.5L511.5,218.5 M519.5,212.5L522.5,215.5L519.5,218.5 M527.5,212.5L530.5,215.5L527.5,218.5 M535.5,212.5L538.5,215.5L535.5,218.5 M543.5,212.5L546.5,215.5L543.5,218.5 M551.5,212.5L554.5,215.5L551.5,218.5 M559.5,212.5L562.5,215.5L559.5,218.5 M567.5,212.5L570.5,215.5L567.5,218.5 M575.5,212.5L578.5,215.5L575.5,218.5 M583.5,212.5L586.5,215.5L583.5,218.5 M591.5,212.5L594.5,215.5L591.5,218.5 M599.5,212.5L602.5,215.5L599.5,218.5 M607.5,212.5L610.5,215.5L607.5,218.5 M615.5,212.5L618.5,215.5L615.5,218.5 M623.5,212.5L626.5,215.5L623.5,218.5 M631.5,212.5L634.5,215.5L631.5,218.5 M639.5,212.5L642.5,215.5L639.5,218.5 M647.5,212.5L650.5,215.5L647.5,218.5 M655.5,212.5L658.5,215.5L655.5,218.5 M663.5,212.5L666.5,215.5L663.5,218.5 M671.5,212.5L674.5,215.5L671.5,218.5 M679.5,212.5L682.5,215.5L679.5,218.5 M687.5,212.5L690.5,215.5L687.5,218.5 M695.5,212.5L698.5,215.5L695.5,218.5 M703.5,212.5L706.5,215.5L703.5,218.5 M711.5,212.5L714.5,215.5L711.5,218.5 M719.5,212.5L722.5,215.5L719.5,218.5 M727.5,212.5L730.5,215.5L727.5,218.5 M735.5,212.5L738.5,215.5L735.5,218.5 M743.5,212.5L746.5,215.5L743.5,218.5 M751.5,212.5L754.5,215.5L751.5,218.5 M759.5,212.5L762.5,215.5L759.5,218.5 M767.5,212.5L770.5,215.5L767.5,218.5 M775.5,212.5L778.5,215.5L775.5,218.5 M783.5,212.5L786.5,215.5L783.5,218.5 M791.5,212.5L794.5,215.5L791.5,218.5 M799.5,212.5L802.5,215.5L799.5,218.5 M807.5,212.5L810.5,215.5L807.5,218.5 M815.5,212.5L818.5,215.5L815.5,218.5 M823.5,212.5L826.5,215.5L823.5,218.5 M831.5,212.5L834.5,215.5L831.5,218.5 M839.5,212.5L842.5,215.5L839.5,218.5 M847.5,212.5L850.5,215.5L847.5,218.5 M855.5,212.5L858.5,215.5L855.5,218.5 M863.5,212.5L866.5,215.5L863.5,218.5 M871.5,212.5L874.5,215.5L871.5,218.5 M879.5,212.5L882.5,215.5L879.5,218.5 M887.5,212.5L890.5,215.5L887.5,218.5 M895.5,212.5L898.5,215.5L895.5,218.5 M903.5,212.5L906.5,215.5L903.5,218.5 M911.5,212.5L914.5,215.5L911.5,218.5 M919.5,212.5L922.5,215.5L919.5,218.5 M927.5,212.5L930.5,215.5L927.5,218.5 M935.5,212.5L938.5,215.5L935.5,218.5 M943.5,212.5L946.5,215.5L943.5,218.5" stroke="#0c0c78" stroke-width="1" fill="none"/>
<text transform="matrix(1,0,0,1.03,0,236)" x="107.88" y="0" font-size="13.6" fill="#0c0c78" textLength="44.21" lengthAdjust="spacingAndGlyphs">FOXO3</text>
<rect x="157" y="231" width="792" height="1" fill="#0c0c78"/>
<path d="M159.5,228.5L162.5,231.5L159.5,234.5 M167.5,228.5L170.5,231.5L167.5,234.5 M175.5,228.5L178.5,231.5L175.5,234.5 M183.5,228.5L186.5,231.5L183.5,234.5 M191.5,228.5L194.5,231.5L191.5,234.5 M199.5,228.5L202.5,231.5L199.5,234.5 M207.5,228.5L210.5,231.5L207.5,234.5 M215.5,228.5L218.5,231.5L215.5,234.5 M223.5,228.5L226.5,231.5L223.5,234.5 M231.5,228.5L234.5,231.5L231.5,234.5 M239.5,228.5L242.5,231.5L239.5,234.5 M247.5,228.5L250.5,231.5L247.5,234.5 M255.5,228.5L258.5,231.5L255.5,234.5 M263.5,228.5L266.5,231.5L263.5,234.5 M271.5,228.5L274.5,231.5L271.5,234.5 M279.5,228.5L282.5,231.5L279.5,234.5 M287.5,228.5L290.5,231.5L287.5,234.5 M295.5,228.5L298.5,231.5L295.5,234.5 M303.5,228.5L306.5,231.5L303.5,234.5 M311.5,228.5L314.5,231.5L311.5,234.5 M319.5,228.5L322.5,231.5L319.5,234.5 M327.5,228.5L330.5,231.5L327.5,234.5 M335.5,228.5L338.5,231.5L335.5,234.5 M343.5,228.5L346.5,231.5L343.5,234.5 M351.5,228.5L354.5,231.5L351.5,234.5 M359.5,228.5L362.5,231.5L359.5,234.5 M367.5,228.5L370.5,231.5L367.5,234.5 M375.5,228.5L378.5,231.5L375.5,234.5 M383.5,228.5L386.5,231.5L383.5,234.5 M391.5,228.5L394.5,231.5L391.5,234.5 M399.5,228.5L402.5,231.5L399.5,234.5 M407.5,228.5L410.5,231.5L407.5,234.5 M415.5,228.5L418.5,231.5L415.5,234.5 M423.5,228.5L426.5,231.5L423.5,234.5 M431.5,228.5L434.5,231.5L431.5,234.5 M439.5,228.5L442.5,231.5L439.5,234.5 M447.5,228.5L450.5,231.5L447.5,234.5 M455.5,228.5L458.5,231.5L455.5,234.5 M463.5,228.5L466.5,231.5L463.5,234.5 M471.5,228.5L474.5,231.5L471.5,234.5 M479.5,228.5L482.5,231.5L479.5,234.5 M487.5,228.5L490.5,231.5L487.5,234.5 M495.5,228.5L498.5,231.5L495.5,234.5 M503.5,228.5L506.5,231.5L503.5,234.5 M511.5,228.5L514.5,231.5L511.5,234.5 M519.5,228.5L522.5,231.5L519.5,234.5 M527.5,228.5L530.5,231.5L527.5,234.5 M535.5,228.5L538.5,231.5L535.5,234.5 M543.5,228.5L546.5,231.5L543.5,234.5 M551.5,228.5L554.5,231.5L551.5,234.5 M559.5,228.5L562.5,231.5L559.5,234.5 M567.5,228.5L570.5,231.5L567.5,234.5 M575.5,228.5L578.5,231.5L575.5,234.5 M583.5,228.5L586.5,231.5L583.5,234.5 M591.5,228.5L594.5,231.5L591.5,234.5 M599.5,228.5L602.5,231.5L599.5,234.5 M607.5,228.5L610.5,231.5L607.5,234.5 M615.5,228.5L618.5,231.5L615.5,234.5 M623.5,228.5L626.5,231.5L623.5,234.5 M631.5,228.5L634.5,231.5L631.5,234.5 M639.5,228.5L642.5,231.5L639.5,234.5 M647.5,228.5L650.5,231.5L647.5,234.5 M655.5,228.5L658.5,231.5L655.5,234.5 M663.5,228.5L666.5,231.5L663.5,234.5 M671.5,228.5L674.5,231.5L671.5,234.5 M679.5,228.5L682.5,231.5L679.5,234.5 M687.5,228.5L690.5,231.5L687.5,234.5 M695.5,228.5L698.5,231.5L695.5,234.5 M703.5,228.5L706.5,231.5L703.5,234.5 M711.5,228.5L714.5,231.5L711.5,234.5 M719.5,228.5L722.5,231.5L719.5,234.5 M727.5,228.5L730.5,231.5L727.5,234.5 M735.5,228.5L738.5,231.5L735.5,234.5 M743.5,228.5L746.5,231.5L743.5,234.5 M751.5,228.5L754.5,231.5L751.5,234.5 M759.5,228.5L762.5,231.5L759.5,234.5 M767.5,228.5L770.5,231.5L767.5,234.5 M775.5,228.5L778.5,231.5L775.5,234.5 M783.5,228.5L786.5,231.5L783.5,234.5 M791.5,228.5L794.5,231.5L791.5,234.5 M799.5,228.5L802.5,231.5L799.5,234.5 M807.5,228.5L810.5,231.5L807.5,234.5 M815.5,228.5L818.5,231.5L815.5,234.5 M823.5,228.5L826.5,231.5L823.5,234.5 M831.5,228.5L834.5,231.5L831.5,234.5 M839.5,228.5L842.5,231.5L839.5,234.5 M847.5,228.5L850.5,231.5L847.5,234.5 M855.5,228.5L858.5,231.5L855.5,234.5 M863.5,228.5L866.5,231.5L863.5,234.5 M871.5,228.5L874.5,231.5L871.5,234.5 M879.5,228.5L882.5,231.5L879.5,234.5 M887.5,228.5L890.5,231.5L887.5,234.5 M895.5,228.5L898.5,231.5L895.5,234.5 M903.5,228.5L906.5,231.5L903.5,234.5 M911.5,228.5L914.5,231.5L911.5,234.5 M919.5,228.5L922.5,231.5L919.5,234.5 M927.5,228.5L930.5,231.5L927.5,234.5 M935.5,228.5L938.5,231.5L935.5,234.5 M943.5,228.5L946.5,231.5L943.5,234.5" stroke="#0c0c78" stroke-width="1" fill="none"/>
<text transform="matrix(1,0,0,1.03,0,252)" x="107.88" y="0" font-size="13.6" fill="#0c0c78" textLength="44.21" lengthAdjust="spacingAndGlyphs">FOXO3</text>
<rect x="157" y="247" width="792" height="1" fill="#0c0c78"/>
<path d="M159.5,244.5L162.5,247.5L159.5,250.5 M167.5,244.5L170.5,247.5L167.5,250.5 M175.5,244.5L178.5,247.5L175.5,250.5 M183.5,244.5L186.5,247.5L183.5,250.5 M191.5,244.5L194.5,247.5L191.5,250.5 M199.5,244.5L202.5,247.5L199.5,250.5 M207.5,244.5L210.5,247.5L207.5,250.5 M215.5,244.5L218.5,247.5L215.5,250.5 M223.5,244.5L226.5,247.5L223.5,250.5 M231.5,244.5L234.5,247.5L231.5,250.5 M239.5,244.5L242.5,247.5L239.5,250.5 M247.5,244.5L250.5,247.5L247.5,250.5 M255.5,244.5L258.5,247.5L255.5,250.5 M263.5,244.5L266.5,247.5L263.5,250.5 M271.5,244.5L274.5,247.5L271.5,250.5 M279.5,244.5L282.5,247.5L279.5,250.5 M287.5,244.5L290.5,247.5L287.5,250.5 M295.5,244.5L298.5,247.5L295.5,250.5 M303.5,244.5L306.5,247.5L303.5,250.5 M311.5,244.5L314.5,247.5L311.5,250.5 M319.5,244.5L322.5,247.5L319.5,250.5 M327.5,244.5L330.5,247.5L327.5,250.5 M335.5,244.5L338.5,247.5L335.5,250.5 M343.5,244.5L346.5,247.5L343.5,250.5 M351.5,244.5L354.5,247.5L351.5,250.5 M359.5,244.5L362.5,247.5L359.5,250.5 M367.5,244.5L370.5,247.5L367.5,250.5 M375.5,244.5L378.5,247.5L375.5,250.5 M383.5,244.5L386.5,247.5L383.5,250.5 M391.5,244.5L394.5,247.5L391.5,250.5 M399.5,244.5L402.5,247.5L399.5,250.5 M407.5,244.5L410.5,247.5L407.5,250.5 M415.5,244.5L418.5,247.5L415.5,250.5 M423.5,244.5L426.5,247.5L423.5,250.5 M431.5,244.5L434.5,247.5L431.5,250.5 M439.5,244.5L442.5,247.5L439.5,250.5 M447.5,244.5L450.5,247.5L447.5,250.5 M455.5,244.5L458.5,247.5L455.5,250.5 M463.5,244.5L466.5,247.5L463.5,250.5 M471.5,244.5L474.5,247.5L471.5,250.5 M479.5,244.5L482.5,247.5L479.5,250.5 M487.5,244.5L490.5,247.5L487.5,250.5 M495.5,244.5L498.5,247.5L495.5,250.5 M503.5,244.5L506.5,247.5L503.5,250.5 M511.5,244.5L514.5,247.5L511.5,250.5 M519.5,244.5L522.5,247.5L519.5,250.5 M527.5,244.5L530.5,247.5L527.5,250.5 M535.5,244.5L538.5,247.5L535.5,250.5 M543.5,244.5L546.5,247.5L543.5,250.5 M551.5,244.5L554.5,247.5L551.5,250.5 M559.5,244.5L562.5,247.5L559.5,250.5 M567.5,244.5L570.5,247.5L567.5,250.5 M575.5,244.5L578.5,247.5L575.5,250.5 M583.5,244.5L586.5,247.5L583.5,250.5 M591.5,244.5L594.5,247.5L591.5,250.5 M599.5,244.5L602.5,247.5L599.5,250.5 M607.5,244.5L610.5,247.5L607.5,250.5 M615.5,244.5L618.5,247.5L615.5,250.5 M623.5,244.5L626.5,247.5L623.5,250.5 M631.5,244.5L634.5,247.5L631.5,250.5 M639.5,244.5L642.5,247.5L639.5,250.5 M647.5,244.5L650.5,247.5L647.5,250.5 M655.5,244.5L658.5,247.5L655.5,250.5 M663.5,244.5L666.5,247.5L663.5,250.5 M671.5,244.5L674.5,247.5L671.5,250.5 M679.5,244.5L682.5,247.5L679.5,250.5 M687.5,244.5L690.5,247.5L687.5,250.5 M695.5,244.5L698.5,247.5L695.5,250.5 M703.5,244.5L706.5,247.5L703.5,250.5 M711.5,244.5L714.5,247.5L711.5,250.5 M719.5,244.5L722.5,247.5L719.5,250.5 M727.5,244.5L730.5,247.5L727.5,250.5 M735.5,244.5L738.5,247.5L735.5,250.5 M743.5,244.5L746.5,247.5L743.5,250.5 M751.5,244.5L754.5,247.5L751.5,250.5 M759.5,244.5L762.5,247.5L759.5,250.5 M767.5,244.5L770.5,247.5L767.5,250.5 M775.5,244.5L778.5,247.5L775.5,250.5 M783.5,244.5L786.5,247.5L783.5,250.5 M791.5,244.5L794.5,247.5L791.5,250.5 M799.5,244.5L802.5,247.5L799.5,250.5 M807.5,244.5L810.5,247.5L807.5,250.5 M815.5,244.5L818.5,247.5L815.5,250.5 M823.5,244.5L826.5,247.5L823.5,250.5 M831.5,244.5L834.5,247.5L831.5,250.5 M839.5,244.5L842.5,247.5L839.5,250.5 M847.5,244.5L850.5,247.5L847.5,250.5 M855.5,244.5L858.5,247.5L855.5,250.5 M863.5,244.5L866.5,247.5L863.5,250.5 M871.5,244.5L874.5,247.5L871.5,250.5 M879.5,244.5L882.5,247.5L879.5,250.5 M887.5,244.5L890.5,247.5L887.5,250.5 M895.5,244.5L898.5,247.5L895.5,250.5 M903.5,244.5L906.5,247.5L903.5,250.5 M911.5,244.5L914.5,247.5L911.5,250.5 M919.5,244.5L922.5,247.5L919.5,250.5 M927.5,244.5L930.5,247.5L927.5,250.5 M935.5,244.5L938.5,247.5L935.5,250.5 M943.5,244.5L946.5,247.5L943.5,250.5" stroke="#0c0c78" stroke-width="1" fill="none"/>
<text transform="matrix(1,0,0,1.03,0,268)" x="490.90" y="0" font-size="11" fill="#000" textLength="123.52" lengthAdjust="spacingAndGlyphs">RefSeq genes from NCBI</text>
<text transform="matrix(1,0,0,1.03,0,283)" x="59.78" y="0" font-size="13.6" fill="#0c0c78" textLength="92.99" lengthAdjust="spacingAndGlyphs">RefSeq Curated</text>
<rect x="157" y="278" width="792" height="1" fill="#0c0c78"/>
<text transform="matrix(1,0,0,1.03,0,299)" x="444.90" y="0" font-size="11" fill="#000" textLength="214.50" lengthAdjust="spacingAndGlyphs">Publications: Sequences in Scientific Articles</text>
<text transform="matrix(1,0,0,1.03,0,314)" x="86.98" y="0" font-size="13.6" fill="#000" textLength="64.56" lengthAdjust="spacingAndGlyphs">Sequences</text>
<text transform="matrix(1,0,0,1.03,0,330)" x="117.78" y="0" font-size="13.6" fill="#000" textLength="33.91" lengthAdjust="spacingAndGlyphs">SNPs</text>
<text transform="matrix(1,0,0,1.03,0,347)" x="367.56" y="0" font-size="13.6" fill="#006400" textLength="370.12" lengthAdjust="spacingAndGlyphs">OMIM Gene Phenotypes - Dark Green Can Be Disease-causing</text>
<text transform="matrix(1,0,0,1.03,0,361)" x="73.46" y="0" font-size="13.6" fill="#006400" textLength="78.34" lengthAdjust="spacingAndGlyphs">OMIM Genes</text>
<rect x="156" y="349" width="793" height="15" fill="#bebebe"/>
<text transform="matrix(1,0,0,1.03,0,377)" x="435.90" y="0" font-size="11" fill="#000" textLength="232.46" lengthAdjust="spacingAndGlyphs">Short Genetic Variants from dbSNP release 155</text>
<text transform="matrix(1,0,0,1.03,0,392)" x="25.81" y="0" font-size="13.6" fill="#000" textLength="126.53" lengthAdjust="spacingAndGlyphs">Common dbSNP(155)</text>
<text transform="matrix(1,0,0,1.03,0,409)" x="265.72" y="0" font-size="13.6" fill="#000" textLength="572.53" lengthAdjust="spacingAndGlyphs">Gene Expression in 54 tissues from GTEx RNA-seq of 17382 samples, 948 donors (V8, Aug 2019)</text>
<text transform="matrix(1,0,0,1.03,0,446)" x="107.58" y="0" font-size="13.6" fill="#000" textLength="44.51" lengthAdjust="spacingAndGlyphs">FOXO3</text>
<rect x="156.5" y="412.5" width="377" height="55" fill="#fff" stroke="#efefef" stroke-width="1"/>
<rect x="156" y="417" width="5" height="50" fill="#FFA54F"/>
<rect x="163" y="419" width="5" height="48" fill="#EE9A00"/>
<rect x="170" y="438" width="5" height="29" fill="#8FBC8F"/>
<rect x="177" y="416" width="5" height="51" fill="#8B1C62"/>
<rect x="184" y="417" width="5" height="50" fill="#EE6A50"/>
<rect x="191" y="412" width="5" height="55" fill="#FF0000"/>
<rect x="198" y="421" width="5" height="46" fill="#CDB79E"/>
<rect x="205" y="436" width="5" height="31" fill="#EEEE00"/>
<rect x="212" y="433" width="5" height="34" fill="#EEEE00"/>
<rect x="219" y="435" width="5" height="32" fill="#EEEE00"/>
<rect x="226" y="414" width="5" height="53" fill="#EEEE00"/>
<rect x="233" y="419" width="5" height="48" fill="#EEEE00"/>
<rect x="240" y="432" width="5" height="35" fill="#EEEE00"/>
<rect x="247" y="428" width="5" height="39" fill="#EEEE00"/>
<rect x="254" y="438" width="5" height="29" fill="#EEEE00"/>
<rect x="261" y="438" width="5" height="29" fill="#EEEE00"/>
<rect x="268" y="434" width="5" height="33" fill="#EEEE00"/>
<rect x="275" y="437" width="5" height="30" fill="#EEEE00"/>
<rect x="282" y="436" width="5" height="31" fill="#EEEE00"/>
<rect x="289" y="439" width="5" height="28" fill="#EEEE00"/>
<rect x="296" y="418" width="5" height="49" fill="#00CDCD"/>
<rect x="303" y="457" width="5" height="10" fill="#EE82EE"/>
<rect x="310" y="417" width="5" height="50" fill="#9AC0CD"/>
<rect x="317" y="416" width="5" height="51" fill="#EED5D2"/>
<rect x="324" y="418" width="5" height="49" fill="#EED5D2"/>
<rect x="331" y="422" width="5" height="45" fill="#CDB79E"/>
<rect x="338" y="427" width="5" height="40" fill="#EEC591"/>
<rect x="345" y="421" width="5" height="46" fill="#8B7355"/>
<rect x="352" y="427" width="5" height="40" fill="#8B7355"/>
<rect x="359" y="421" width="5" height="46" fill="#CDAA7D"/>
<rect x="366" y="419" width="5" height="48" fill="#EED5D2"/>
<rect x="373" y="433" width="5" height="34" fill="#B452CD"/>
<rect x="380" y="439" width="5" height="28" fill="#7A378B"/>
<rect x="387" y="439" width="5" height="28" fill="#CDB79E"/>
<rect x="394" y="434" width="5" height="33" fill="#CDB79E"/>
<rect x="401" y="439" width="5" height="28" fill="#CDB79E"/>
<rect x="408" y="416" width="5" height="51" fill="#9ACD32"/>
<rect x="415" y="423" width="5" height="44" fill="#CDB79E"/>
<rect x="422" y="417" width="5" height="50" fill="#7A67EE"/>
<rect x="429" y="414" width="5" height="53" fill="#FFD700"/>
<rect x="436" y="415" width="5" height="52" fill="#FFB6C1"/>
<rect x="443" y="431" width="5" height="36" fill="#CD9B1D"/>
<rect x="450" y="433" width="5" height="34" fill="#B4EEB4"/>
<rect x="457" y="423" width="5" height="44" fill="#D9D9D9"/>
<rect x="464" y="421" width="5" height="46" fill="#3A5FCD"/>
<rect x="471" y="419" width="5" height="48" fill="#1E90FF"/>
<rect x="478" y="427" width="5" height="40" fill="#CDB79E"/>
<rect x="485" y="427" width="5" height="40" fill="#CDB79E"/>
<rect x="492" y="426" width="5" height="41" fill="#FFD39B"/>
<rect x="499" y="429" width="5" height="38" fill="#A6A6A6"/>
<rect x="506" y="422" width="5" height="45" fill="#008B45"/>
<rect x="513" y="417" width="5" height="50" fill="#EED5D2"/>
<rect x="520" y="419" width="5" height="48" fill="#EED5D2"/>
<rect x="527" y="432" width="5" height="35" fill="#FF00FF"/>
<rect x="156" y="468" width="793" height="2" fill="#000080"/>
<text transform="matrix(1,0,0,1.03,0,485)" x="280.18" y="0" font-size="13.6" fill="#000" textLength="542.30" lengthAdjust="spacingAndGlyphs">H3K27Ac Mark (Often Found Near Active Regulatory Elements) on 7 cell lines from ENCODE</text>
<text transform="matrix(1,0,0,1.03,0,499)" x="12.38" y="0" font-size="13.6" fill="#000" textLength="104.97" lengthAdjust="spacingAndGlyphs">Layered H3K27Ac</text>
<rect x="156" y="510" width="793" height="4" fill="#ff8080"/>
<rect x="156" y="514" width="793" height="1" fill="#73327d"/>
<rect x="156" y="515" width="793" height="1" fill="#781c6e"/>
<rect x="156" y="516" width="793" height="1" fill="#190023"/>
<text transform="matrix(1,0,0,1.03,0,531)" x="405.06" y="0" font-size="13.6" fill="#3c3c8c" textLength="293.75" lengthAdjust="spacingAndGlyphs">100 vertebrates Basewise Conservation by PhyloP</text>
<text transform="matrix(1,0,0,1.03,0,530)" x="115.89" y="0" font-size="13.6" fill="#3c3c8c" textLength="36.36" lengthAdjust="spacingAndGlyphs">4.88 _</text>
<text transform="matrix(1,0,0,1.03,0,555)" x="12.76" y="0" font-size="13.6" fill="#3c3c8c" textLength="86.73" lengthAdjust="spacingAndGlyphs">100 Vert. Cons</text>
<text transform="matrix(1,0,0,1.03,0,580)" x="118.60" y="0" font-size="13.6" fill="#8c3c3c" textLength="33.65" lengthAdjust="spacingAndGlyphs">-4.5 _</text>
<rect x="230" y="557" width="28" height="1" fill="#ff9a9a"/>
<rect x="662" y="557" width="28" height="1" fill="#ff9a9a"/>
<rect x="410" y="557" width="7" height="1" fill="#ff6060"/>
<rect x="417" y="556" width="14" height="1" fill="#ff8080"/>
<rect x="431" y="557" width="7" height="1" fill="#ff6060"/>
<path d="M446,557.6L457,553.6L463,553.6L474,557.6" stroke="#ff0000" stroke-width="1.8" fill="none" stroke-linejoin="round"/>
<path d="M455.5,556.7L467,556.7" stroke="#ff9a9a" stroke-width="0.9" fill="none"/>
<path d="M698,557.6L709,554.2L715,554.2L726,557.6" stroke="#ff0000" stroke-width="1.8" fill="none" stroke-linejoin="round"/>
<path d="M707.5,556.8L719,556.8" stroke="#ff9a9a" stroke-width="0.9" fill="none"/>
<rect x="519" y="560" width="4" height="2" fill="#0000ff"/>
<path d="M523,559.5L547,559.5M523,562.5L535,562.5L545,561.8" stroke="#4a4aff" stroke-width="1" fill="none"/>
<rect x="535" y="561" width="10" height="1" fill="#9a9aff"/>
<rect x="545" y="561" width="4" height="2" fill="#0000ff"/>
<rect x="735" y="556" width="5" height="2" fill="#3030ff"/>
<rect x="740" y="556.3" width="21" height="1.2" fill="#a8a8ff"/>
<rect x="760" y="557" width="5" height="1" fill="#0000ff"/>
<rect x="806" y="556" width="26" height="1" fill="#c0ffc0"/>
<rect x="817" y="556" width="4" height="3" fill="#00f000"/>
<text transform="matrix(1,0,0,1.03,0,597)" x="444.58" y="0" font-size="13.6" fill="#0c0c78" textLength="214.61" lengthAdjust="spacingAndGlyphs">Multiz Alignments of 100 Vertebrates</text>
<text transform="matrix(1,0,0,1.03,0,611)" x="120.82" y="0" font-size="13.6" fill="#e08818" textLength="30.98" lengthAdjust="spacingAndGlyphs">Gaps</text>
<text transform="matrix(1,0,0,1.03,0,626)" x="110.68" y="0" font-size="13.6" fill="#0c0c78" textLength="41.50" lengthAdjust="spacingAndGlyphs">Human</text>
<text transform="matrix(1,0,0,1.03,0,641)" x="107.58" y="0" font-size="13.6" fill="#0c0c78" textLength="44.21" lengthAdjust="spacingAndGlyphs">Rhesus</text>
<text transform="matrix(1,0,0,1.03,0,656)" x="112.48" y="0" font-size="13.6" fill="#006400" textLength="39.42" lengthAdjust="spacingAndGlyphs">Mouse</text>
<text transform="matrix(1,0,0,1.03,0,671)" x="128.58" y="0" font-size="13.6" fill="#0c0c78" textLength="23.59" lengthAdjust="spacingAndGlyphs">Dog</text>
<text transform="matrix(1,0,0,1.03,0,686)" x="100.58" y="0" font-size="13.6" fill="#006400" textLength="50.82" lengthAdjust="spacingAndGlyphs">Elephant</text>
<text transform="matrix(1,0,0,1.03,0,701)" x="104.61" y="0" font-size="13.6" fill="#006400" textLength="47.57" lengthAdjust="spacingAndGlyphs">Chicken</text>
<text transform="matrix(1,0,0,1.03,0,716)" x="84.09" y="0" font-size="13.6" fill="#0c0c78" textLength="67.70" lengthAdjust="spacingAndGlyphs">X_tropicalis</text>
<text transform="matrix(1,0,0,1.03,0,731)" x="97.57" y="0" font-size="13.6" fill="#006400" textLength="54.61" lengthAdjust="spacingAndGlyphs">Zebrafish</text>
<text x="172.2" y="0" font-size="13" fill="#0a0a6e" text-anchor="middle" transform="matrix(1,0,0,1.1,0,626)">T</text>
<text x="208.2" y="0" font-size="13" fill="#0a0a6e" text-anchor="middle" transform="matrix(1,0,0,1.1,0,626)">T</text>
<text x="244.2" y="0" font-size="13" fill="#0a0a6e" text-anchor="middle" transform="matrix(1,0,0,1.1,0,626)">A</text>
<text x="280.2" y="0" font-size="13" fill="#0a0a6e" text-anchor="middle" transform="matrix(1,0,0,1.1,0,626)">G</text>
<text x="316.2" y="0" font-size="13" fill="#0a0a6e" text-anchor="middle" transform="matrix(1,0,0,1.1,0,626)">A</text>
<text x="352.2" y="0" font-size="13" fill="#0a0a6e" text-anchor="middle" transform="matrix(1,0,0,1.1,0,626)">G</text>
<text x="388.2" y="0" font-size="13" fill="#0a0a6e" text-anchor="middle" transform="matrix(1,0,0,1.1,0,626)">G</text>
<text x="424.2" y="0" font-size="13" fill="#0a0a6e" text-anchor="middle" transform="matrix(1,0,0,1.1,0,626)">A</text>
<text x="460.2" y="0" font-size="13" fill="#0a0a6e" text-anchor="middle" transform="matrix(1,0,0,1.1,0,626)">A</text>
<text x="496.2" y="0" font-size="13" fill="#0a0a6e" text-anchor="middle" transform="matrix(1,0,0,1.1,0,626)">A</text>
<text x="532.2" y="0" font-size="13" fill="#0a0a6e" text-anchor="middle" transform="matrix(1,0,0,1.1,0,626)">G</text>
<text x="568.2" y="0" font-size="13" fill="#0a0a6e" text-anchor="middle" transform="matrix(1,0,0,1.1,0,626)">T</text>
<text x="604.2" y="0" font-size="13" fill="#0a0a6e" text-anchor="middle" transform="matrix(1,0,0,1.1,0,626)">G</text>
<text x="640.2" y="0" font-size="13" fill="#0a0a6e" text-anchor="middle" transform="matrix(1,0,0,1.1,0,626)">G</text>
<text x="676.2" y="0" font-size="13" fill="#0a0a6e" text-anchor="middle" transform="matrix(1,0,0,1.1,0,626)">A</text>
<text x="712.2" y="0" font-size="13" fill="#0a0a6e" text-anchor="middle" transform="matrix(1,0,0,1.1,0,626)">A</text>
<text x="748.2" y="0" font-size="13" fill="#0a0a6e" text-anchor="middle" transform="matrix(1,0,0,1.1,0,626)">G</text>
<text x="784.2" y="0" font-size="13" fill="#0a0a6e" text-anchor="middle" transform="matrix(1,0,0,1.1,0,626)">G</text>
<text x="820.2" y="0" font-size="13" fill="#0a0a6e" text-anchor="middle" transform="matrix(1,0,0,1.1,0,626)">T</text>
<text x="856.2" y="0" font-size="13" fill="#0a0a6e" text-anchor="middle" transform="matrix(1,0,0,1.1,0,626)">A</text>
<text x="892.2" y="0" font-size="13" fill="#0a0a6e" text-anchor="middle" transform="matrix(1,0,0,1.1,0,626)">A</text>
<text x="928.2" y="0" font-size="13" fill="#0a0a6e" text-anchor="middle" transform="matrix(1,0,0,1.1,0,626)">A</text>
<text x="172.2" y="0" font-size="13" fill="#0a0a6e" text-anchor="middle" transform="matrix(1,0,0,1.1,0,641)">T</text>
<text x="208.2" y="0" font-size="13" fill="#0a0a6e" text-anchor="middle" transform="matrix(1,0,0,1.1,0,641)">T</text>
<text x="244.2" y="0" font-size="13" fill="#0a0a6e" text-anchor="middle" transform="matrix(1,0,0,1.1,0,641)">A</text>
<text x="280.2" y="0" font-size="13" fill="#0a0a6e" text-anchor="middle" transform="matrix(1,0,0,1.1,0,641)">G</text>
<text x="316.2" y="0" font-size="13" fill="#0a0a6e" text-anchor="middle" transform="matrix(1,0,0,1.1,0,641)">A</text>
<text x="352.2" y="0" font-size="13" fill="#0a0a6e" text-anchor="middle" transform="matrix(1,0,0,1.1,0,641)">G</text>
<text x="388.2" y="0" font-size="13" fill="#0a0a6e" text-anchor="middle" transform="matrix(1,0,0,1.1,0,641)">G</text>
<text x="424.2" y="0" font-size="13" fill="#0a0a6e" text-anchor="middle" transform="matrix(1,0,0,1.1,0,641)">A</text>
<text x="460.2" y="0" font-size="13" fill="#0a0a6e" text-anchor="middle" transform="matrix(1,0,0,1.1,0,641)">A</text>
<text x="496.2" y="0" font-size="13" fill="#0a0a6e" text-anchor="middle" transform="matrix(1,0,0,1.1,0,641)">A</text>
<text x="532.2" y="0" font-size="13" fill="#0a0a6e" text-anchor="middle" transform="matrix(1,0,0,1.1,0,641)">G</text>
<text x="568.2" y="0" font-size="13" fill="#8287be" text-anchor="middle" transform="matrix(1,0,0,1.1,0,641)">C</text>
<text x="604.2" y="0" font-size="13" fill="#0a0a6e" text-anchor="middle" transform="matrix(1,0,0,1.1,0,641)">G</text>
<text x="640.2" y="0" font-size="13" fill="#0a0a6e" text-anchor="middle" transform="matrix(1,0,0,1.1,0,641)">G</text>
<text x="676.2" y="0" font-size="13" fill="#0a0a6e" text-anchor="middle" transform="matrix(1,0,0,1.1,0,641)">A</text>
<text x="712.2" y="0" font-size="13" fill="#0a0a6e" text-anchor="middle" transform="matrix(1,0,0,1.1,0,641)">A</text>
<text x="748.2" y="0" font-size="13" fill="#0a0a6e" text-anchor="middle" transform="matrix(1,0,0,1.1,0,641)">G</text>
<text x="784.2" y="0" font-size="13" fill="#0a0a6e" text-anchor="middle" transform="matrix(1,0,0,1.1,0,641)">G</text>
<text x="820.2" y="0" font-size="13" fill="#0a0a6e" text-anchor="middle" transform="matrix(1,0,0,1.1,0,641)">T</text>
<text x="856.2" y="0" font-size="13" fill="#0a0a6e" text-anchor="middle" transform="matrix(1,0,0,1.1,0,641)">A</text>
<text x="892.2" y="0" font-size="13" fill="#0a0a6e" text-anchor="middle" transform="matrix(1,0,0,1.1,0,641)">A</text>
<text x="928.2" y="0" font-size="13" fill="#0a0a6e" text-anchor="middle" transform="matrix(1,0,0,1.1,0,641)">A</text>
<rect x="170.5" y="652" width="3.3" height="1" fill="#7c80b8"/>
<rect x="206.5" y="652" width="3.3" height="1" fill="#7c80b8"/>
<rect x="242.5" y="652" width="3.3" height="1" fill="#7c80b8"/>
<rect x="278.5" y="652" width="3.3" height="1" fill="#7c80b8"/>
<text x="316.2" y="0" font-size="13" fill="#0a0a6e" text-anchor="middle" transform="matrix(1,0,0,1.1,0,656)">A</text>
<text x="352.2" y="0" font-size="13" fill="#0a0a6e" text-anchor="middle" transform="matrix(1,0,0,1.1,0,656)">G</text>
<text x="388.2" y="0" font-size="13" fill="#8287be" text-anchor="middle" transform="matrix(1,0,0,1.1,0,656)">A</text>
<text x="424.2" y="0" font-size="13" fill="#8287be" text-anchor="middle" transform="matrix(1,0,0,1.1,0,656)">G</text>
<text x="460.2" y="0" font-size="13" fill="#8287be" text-anchor="middle" transform="matrix(1,0,0,1.1,0,656)">G</text>
<text x="496.2" y="0" font-size="13" fill="#0a0a6e" text-anchor="middle" transform="matrix(1,0,0,1.1,0,656)">A</text>
<text x="532.2" y="0" font-size="13" fill="#8287be" text-anchor="middle" transform="matrix(1,0,0,1.1,0,656)">C</text>
<text x="568.2" y="0" font-size="13" fill="#8287be" text-anchor="middle" transform="matrix(1,0,0,1.1,0,656)">A</text>
<text x="604.2" y="0" font-size="13" fill="#0a0a6e" text-anchor="middle" transform="matrix(1,0,0,1.1,0,656)">G</text>
<text x="640.2" y="0" font-size="13" fill="#0a0a6e" text-anchor="middle" transform="matrix(1,0,0,1.1,0,656)">G</text>
<text x="676.2" y="0" font-size="13" fill="#0a0a6e" text-anchor="middle" transform="matrix(1,0,0,1.1,0,656)">A</text>
<text x="712.2" y="0" font-size="13" fill="#0a0a6e" text-anchor="middle" transform="matrix(1,0,0,1.1,0,656)">A</text>
<text x="748.2" y="0" font-size="13" fill="#0a0a6e" text-anchor="middle" transform="matrix(1,0,0,1.1,0,656)">G</text>
<text x="784.2" y="0" font-size="13" fill="#8287be" text-anchor="middle" transform="matrix(1,0,0,1.1,0,656)">A</text>
<rect x="818.5" y="652" width="3.3" height="1" fill="#7c80b8"/>
<rect x="854.5" y="652" width="3.3" height="1" fill="#7c80b8"/>
<rect x="890.5" y="652" width="3.3" height="1" fill="#7c80b8"/>
<rect x="926.5" y="652" width="3.3" height="1" fill="#7c80b8"/>
<text x="172.2" y="0" font-size="13" fill="#0a0a6e" text-anchor="middle" transform="matrix(1,0,0,1.1,0,671)">T</text>
<text x="208.2" y="0" font-size="13" fill="#0a0a6e" text-anchor="middle" transform="matrix(1,0,0,1.1,0,671)">T</text>
<text x="244.2" y="0" font-size="13" fill="#0a0a6e" text-anchor="middle" transform="matrix(1,0,0,1.1,0,671)">A</text>
<text x="280.2" y="0" font-size="13" fill="#0a0a6e" text-anchor="middle" transform="matrix(1,0,0,1.1,0,671)">G</text>
<text x="316.2" y="0" font-size="13" fill="#8287be" text-anchor="middle" transform="matrix(1,0,0,1.1,0,671)">G</text>
<text x="352.2" y="0" font-size="13" fill="#8287be" text-anchor="middle" transform="matrix(1,0,0,1.1,0,671)">C</text>
<text x="388.2" y="0" font-size="13" fill="#0a0a6e" text-anchor="middle" transform="matrix(1,0,0,1.1,0,671)">G</text>
<text x="424.2" y="0" font-size="13" fill="#0a0a6e" text-anchor="middle" transform="matrix(1,0,0,1.1,0,671)">A</text>
<text x="460.2" y="0" font-size="13" fill="#0a0a6e" text-anchor="middle" transform="matrix(1,0,0,1.1,0,671)">A</text>
<text x="496.2" y="0" font-size="13" fill="#0a0a6e" text-anchor="middle" transform="matrix(1,0,0,1.1,0,671)">A</text>
<text x="532.2" y="0" font-size="13" fill="#0a0a6e" text-anchor="middle" transform="matrix(1,0,0,1.1,0,671)">G</text>
<text x="568.2" y="0" font-size="13" fill="#8287be" text-anchor="middle" transform="matrix(1,0,0,1.1,0,671)">A</text>
<text x="604.2" y="0" font-size="13" fill="#8287be" text-anchor="middle" transform="matrix(1,0,0,1.1,0,671)">T</text>
<text x="640.2" y="0" font-size="13" fill="#8287be" text-anchor="middle" transform="matrix(1,0,0,1.1,0,671)">A</text>
<text x="676.2" y="0" font-size="13" fill="#8287be" text-anchor="middle" transform="matrix(1,0,0,1.1,0,671)">G</text>
<text x="712.2" y="0" font-size="13" fill="#0a0a6e" text-anchor="middle" transform="matrix(1,0,0,1.1,0,671)">A</text>
<text x="748.2" y="0" font-size="13" fill="#0a0a6e" text-anchor="middle" transform="matrix(1,0,0,1.1,0,671)">G</text>
<text x="784.2" y="0" font-size="13" fill="#0a0a6e" text-anchor="middle" transform="matrix(1,0,0,1.1,0,671)">G</text>
<rect x="818.5" y="667" width="3.3" height="1" fill="#7c80b8"/>
<rect x="854.5" y="667" width="3.3" height="1" fill="#7c80b8"/>
<rect x="890.5" y="667" width="3.3" height="1" fill="#7c80b8"/>
<rect x="926.5" y="667" width="3.3" height="1" fill="#7c80b8"/>
<text x="172.2" y="0" font-size="13" fill="#0a0a6e" text-anchor="middle" transform="matrix(1,0,0,1.1,0,686)">T</text>
<text x="208.2" y="0" font-size="13" fill="#0a0a6e" text-anchor="middle" transform="matrix(1,0,0,1.1,0,686)">T</text>
<text x="244.2" y="0" font-size="13" fill="#0a0a6e" text-anchor="middle" transform="matrix(1,0,0,1.1,0,686)">A</text>
<text x="280.2" y="0" font-size="13" fill="#0a0a6e" text-anchor="middle" transform="matrix(1,0,0,1.1,0,686)">G</text>
<text x="316.2" y="0" font-size="13" fill="#8287be" text-anchor="middle" transform="matrix(1,0,0,1.1,0,686)">G</text>
<text x="352.2" y="0" font-size="13" fill="#0a0a6e" text-anchor="middle" transform="matrix(1,0,0,1.1,0,686)">G</text>
<text x="388.2" y="0" font-size="13" fill="#0a0a6e" text-anchor="middle" transform="matrix(1,0,0,1.1,0,686)">G</text>
<text x="424.2" y="0" font-size="13" fill="#0a0a6e" text-anchor="middle" transform="matrix(1,0,0,1.1,0,686)">A</text>
<text x="460.2" y="0" font-size="13" fill="#0a0a6e" text-anchor="middle" transform="matrix(1,0,0,1.1,0,686)">A</text>
<text x="496.2" y="0" font-size="13" fill="#0a0a6e" text-anchor="middle" transform="matrix(1,0,0,1.1,0,686)">A</text>
<text x="532.2" y="0" font-size="13" fill="#0a0a6e" text-anchor="middle" transform="matrix(1,0,0,1.1,0,686)">G</text>
<text x="568.2" y="0" font-size="13" fill="#8287be" text-anchor="middle" transform="matrix(1,0,0,1.1,0,686)">A</text>
<text x="604.2" y="0" font-size="13" fill="#0a0a6e" text-anchor="middle" transform="matrix(1,0,0,1.1,0,686)">G</text>
<text x="640.2" y="0" font-size="13" fill="#0a0a6e" text-anchor="middle" transform="matrix(1,0,0,1.1,0,686)">G</text>
<text x="676.2" y="0" font-size="13" fill="#8287be" text-anchor="middle" transform="matrix(1,0,0,1.1,0,686)">G</text>
<text x="712.2" y="0" font-size="13" fill="#0a0a6e" text-anchor="middle" transform="matrix(1,0,0,1.1,0,686)">A</text>
<text x="748.2" y="0" font-size="13" fill="#0a0a6e" text-anchor="middle" transform="matrix(1,0,0,1.1,0,686)">G</text>
<text x="784.2" y="0" font-size="13" fill="#8287be" text-anchor="middle" transform="matrix(1,0,0,1.1,0,686)">A</text>
<rect x="818.5" y="682" width="3.3" height="1" fill="#7c80b8"/>
<rect x="854.5" y="682" width="3.3" height="1" fill="#7c80b8"/>
<rect x="890.5" y="682" width="3.3" height="1" fill="#7c80b8"/>
<rect x="926.5" y="682" width="3.3" height="1" fill="#7c80b8"/>
<rect x="168.5" y="696" width="6.5" height="1" fill="#8287b9"/>
<rect x="168.5" y="699" width="6.5" height="1" fill="#8287b9"/>
<rect x="204.5" y="696" width="6.5" height="1" fill="#8287b9"/>
<rect x="204.5" y="699" width="6.5" height="1" fill="#8287b9"/>
<rect x="240.5" y="696" width="6.5" height="1" fill="#8287b9"/>
<rect x="240.5" y="699" width="6.5" height="1" fill="#8287b9"/>
<rect x="276.5" y="696" width="6.5" height="1" fill="#8287b9"/>
<rect x="276.5" y="699" width="6.5" height="1" fill="#8287b9"/>
<rect x="312.5" y="696" width="6.5" height="1" fill="#8287b9"/>
<rect x="312.5" y="699" width="6.5" height="1" fill="#8287b9"/>
<rect x="348.5" y="696" width="6.5" height="1" fill="#8287b9"/>
<rect x="348.5" y="699" width="6.5" height="1" fill="#8287b9"/>
<rect x="384.5" y="696" width="6.5" height="1" fill="#8287b9"/>
<rect x="384.5" y="699" width="6.5" height="1" fill="#8287b9"/>
<rect x="420.5" y="696" width="6.5" height="1" fill="#8287b9"/>
<rect x="420.5" y="699" width="6.5" height="1" fill="#8287b9"/>
<rect x="456.5" y="696" width="6.5" height="1" fill="#8287b9"/>
<rect x="456.5" y="699" width="6.5" height="1" fill="#8287b9"/>
<rect x="492.5" y="696" width="6.5" height="1" fill="#8287b9"/>
<rect x="492.5" y="699" width="6.5" height="1" fill="#8287b9"/>
<rect x="528.5" y="696" width="6.5" height="1" fill="#8287b9"/>
<rect x="528.5" y="699" width="6.5" height="1" fill="#8287b9"/>
<rect x="564.5" y="696" width="6.5" height="1" fill="#8287b9"/>
<rect x="564.5" y="699" width="6.5" height="1" fill="#8287b9"/>
<rect x="600.5" y="696" width="6.5" height="1" fill="#8287b9"/>
<rect x="600.5" y="699" width="6.5" height="1" fill="#8287b9"/>
<rect x="636.5" y="696" width="6.5" height="1" fill="#8287b9"/>
<rect x="636.5" y="699" width="6.5" height="1" fill="#8287b9"/>
<rect x="672.5" y="696" width="6.5" height="1" fill="#8287b9"/>
<rect x="672.5" y="699" width="6.5" height="1" fill="#8287b9"/>
<rect x="708.5" y="696" width="6.5" height="1" fill="#8287b9"/>
<rect x="708.5" y="699" width="6.5" height="1" fill="#8287b9"/>
<rect x="744.5" y="696" width="6.5" height="1" fill="#8287b9"/>
<rect x="744.5" y="699" width="6.5" height="1" fill="#8287b9"/>
<rect x="780.5" y="696" width="6.5" height="1" fill="#8287b9"/>
<rect x="780.5" y="699" width="6.5" height="1" fill="#8287b9"/>
<rect x="816.5" y="696" width="6.5" height="1" fill="#8287b9"/>
<rect x="816.5" y="699" width="6.5" height="1" fill="#8287b9"/>
<rect x="852.5" y="696" width="6.5" height="1" fill="#8287b9"/>
<rect x="852.5" y="699" width="6.5" height="1" fill="#8287b9"/>
<rect x="888.5" y="696" width="6.5" height="1" fill="#8287b9"/>
<rect x="888.5" y="699" width="6.5" height="1" fill="#8287b9"/>
<rect x="924.5" y="696" width="6.5" height="1" fill="#8287b9"/>
<rect x="924.5" y="699" width="6.5" height="1" fill="#8287b9"/>
<rect x="168.5" y="711" width="6.5" height="1" fill="#8287b9"/>
<rect x="168.5" y="714" width="6.5" height="1" fill="#8287b9"/>
<rect x="204.5" y="711" width="6.5" height="1" fill="#8287b9"/>
<rect x="204.5" y="714" width="6.5" height="1" fill="#8287b9"/>
<rect x="240.5" y="711" width="6.5" height="1" fill="#8287b9"/>
<rect x="240.5" y="714" width="6.5" height="1" fill="#8287b9"/>
<rect x="276.5" y="711" width="6.5" height="1" fill="#8287b9"/>
<rect x="276.5" y="714" width="6.5" height="1" fill="#8287b9"/>
<rect x="312.5" y="711" width="6.5" height="1" fill="#8287b9"/>
<rect x="312.5" y="714" width="6.5" height="1" fill="#8287b9"/>
<rect x="348.5" y="711" width="6.5" height="1" fill="#8287b9"/>
<rect x="348.5" y="714" width="6.5" height="1" fill="#8287b9"/>
<rect x="384.5" y="711" width="6.5" height="1" fill="#8287b9"/>
<rect x="384.5" y="714" width="6.5" height="1" fill="#8287b9"/>
<rect x="420.5" y="711" width="6.5" height="1" fill="#8287b9"/>
<rect x="420.5" y="714" width="6.5" height="1" fill="#8287b9"/>
<rect x="456.5" y="711" width="6.5" height="1" fill="#8287b9"/>
<rect x="456.5" y="714" width="6.5" height="1" fill="#8287b9"/>
<rect x="492.5" y="711" width="6.5" height="1" fill="#8287b9"/>
<rect x="492.5" y="714" width="6.5" height="1" fill="#8287b9"/>
<rect x="528.5" y="711" width="6.5" height="1" fill="#8287b9"/>
<rect x="528.5" y="714" width="6.5" height="1" fill="#8287b9"/>
<rect x="564.5" y="711" width="6.5" height="1" fill="#8287b9"/>
<rect x="564.5" y="714" width="6.5" height="1" fill="#8287b9"/>
<rect x="600.5" y="711" width="6.5" height="1" fill="#8287b9"/>
<rect x="600.5" y="714" width="6.5" height="1" fill="#8287b9"/>
<rect x="636.5" y="711" width="6.5" height="1" fill="#8287b9"/>
<rect x="636.5" y="714" width="6.5" height="1" fill="#8287b9"/>
<rect x="672.5" y="711" width="6.5" height="1" fill="#8287b9"/>
<rect x="672.5" y="714" width="6.5" height="1" fill="#8287b9"/>
<rect x="708.5" y="711" width="6.5" height="1" fill="#8287b9"/>
<rect x="708.5" y="714" width="6.5" height="1" fill="#8287b9"/>
<rect x="744.5" y="711" width="6.5" height="1" fill="#8287b9"/>
<rect x="744.5" y="714" width="6.5" height="1" fill="#8287b9"/>
<rect x="780.5" y="711" width="6.5" height="1" fill="#8287b9"/>
<rect x="780.5" y="714" width="6.5" height="1" fill="#8287b9"/>
<rect x="816.5" y="711" width="6.5" height="1" fill="#8287b9"/>
<rect x="816.5" y="714" width="6.5" height="1" fill="#8287b9"/>
<rect x="852.5" y="711" width="6.5" height="1" fill="#8287b9"/>
<rect x="852.5" y="714" width="6.5" height="1" fill="#8287b9"/>
<rect x="888.5" y="711" width="6.5" height="1" fill="#8287b9"/>
<rect x="888.5" y="714" width="6.5" height="1" fill="#8287b9"/>
<rect x="924.5" y="711" width="6.5" height="1" fill="#8287b9"/>
<rect x="924.5" y="714" width="6.5" height="1" fill="#8287b9"/>
<rect x="168.5" y="726" width="6.5" height="1" fill="#8287b9"/>
<rect x="168.5" y="729" width="6.5" height="1" fill="#8287b9"/>
<rect x="204.5" y="726" width="6.5" height="1" fill="#8287b9"/>
<rect x="204.5" y="729" width="6.5" height="1" fill="#8287b9"/>
<rect x="240.5" y="726" width="6.5" height="1" fill="#8287b9"/>
<rect x="240.5" y="729" width="6.5" height="1" fill="#8287b9"/>
<rect x="276.5" y="726" width="6.5" height="1" fill="#8287b9"/>
<rect x="276.5" y="729" width="6.5" height="1" fill="#8287b9"/>
<rect x="312.5" y="726" width="6.5" height="1" fill="#8287b9"/>
<rect x="312.5" y="729" width="6.5" height="1" fill="#8287b9"/>
<rect x="348.5" y="726" width="6.5" height="1" fill="#8287b9"/>
<rect x="348.5" y="729" width="6.5" height="1" fill="#8287b9"/>
<rect x="384.5" y="726" width="6.5" height="1" fill="#8287b9"/>
<rect x="384.5" y="729" width="6.5" height="1" fill="#8287b9"/>
<rect x="420.5" y="726" width="6.5" height="1" fill="#8287b9"/>
<rect x="420.5" y="729" width="6.5" height="1" fill="#8287b9"/>
<rect x="456.5" y="726" width="6.5" height="1" fill="#8287b9"/>
<rect x="456.5" y="729" width="6.5" height="1" fill="#8287b9"/>
<rect x="492.5" y="726" width="6.5" height="1" fill="#8287b9"/>
<rect x="492.5" y="729" width="6.5" height="1" fill="#8287b9"/>
<rect x="528.5" y="726" width="6.5" height="1" fill="#8287b9"/>
<rect x="528.5" y="729" width="6.5" height="1" fill="#8287b9"/>
<rect x="564.5" y="726" width="6.5" height="1" fill="#8287b9"/>
<rect x="564.5" y="729" width="6.5" height="1" fill="#8287b9"/>
<rect x="600.5" y="726" width="6.5" height="1" fill="#8287b9"/>
<rect x="600.5" y="729" width="6.5" height="1" fill="#8287b9"/>
<rect x="636.5" y="726" width="6.5" height="1" fill="#8287b9"/>
<rect x="636.5" y="729" width="6.5" height="1" fill="#8287b9"/>
<rect x="672.5" y="726" width="6.5" height="1" fill="#8287b9"/>
<rect x="672.5" y="729" width="6.5" height="1" fill="#8287b9"/>
<rect x="708.5" y="726" width="6.5" height="1" fill="#8287b9"/>
<rect x="708.5" y="729" width="6.5" height="1" fill="#8287b9"/>
<rect x="744.5" y="726" width="6.5" height="1" fill="#8287b9"/>
<rect x="744.5" y="729" width="6.5" height="1" fill="#8287b9"/>
<rect x="780.5" y="726" width="6.5" height="1" fill="#8287b9"/>
<rect x="780.5" y="729" width="6.5" height="1" fill="#8287b9"/>
<rect x="816.5" y="726" width="6.5" height="1" fill="#8287b9"/>
<rect x="816.5" y="729" width="6.5" height="1" fill="#8287b9"/>
<rect x="852.5" y="726" width="6.5" height="1" fill="#8287b9"/>
<rect x="852.5" y="729" width="6.5" height="1" fill="#8287b9"/>
<rect x="888.5" y="726" width="6.5" height="1" fill="#8287b9"/>
<rect x="888.5" y="729" width="6.5" height="1" fill="#8287b9"/>
<rect x="924.5" y="726" width="6.5" height="1" fill="#8287b9"/>
<rect x="924.5" y="729" width="6.5" height="1" fill="#8287b9"/>
<text transform="matrix(1,0,0,1.03,0,747)" x="440.68" y="0" font-size="13.6" fill="#000" textLength="223.74" lengthAdjust="spacingAndGlyphs">Repeating Elements by RepeatMasker</text>
<text transform="matrix(1,0,0,1.03,0,761)" x="67.88" y="0" font-size="13.6" fill="#000" textLength="83.84" lengthAdjust="spacingAndGlyphs">RepeatMasker</text></svg>
</body></html>
